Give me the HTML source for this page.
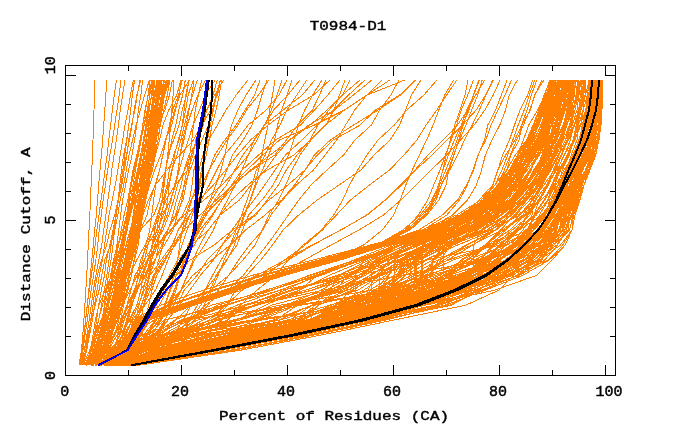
<!DOCTYPE html>
<html><head><meta charset="utf-8"><title>T0984-D1</title><style>
html,body{margin:0;padding:0;background:#fff;}
body{width:680px;height:440px;overflow:hidden;position:relative;font-family:"Liberation Mono",monospace;color:#000;}
svg{position:absolute;left:0;top:0;display:block;}
</style></head><body>
<svg width="680" height="440" viewBox="0 0 680 440">
<rect x="0" y="0" width="680" height="440" fill="#fff"/>
<g fill="none" shape-rendering="crispEdges" stroke-linejoin="round">
<polyline points="127.1,365.3 204.8,350.3 279.5,335.3 355.0,320.2 404.5,305.2 455.4,290.2 495.8,275.2 529.5,260.2 548.3,245.1 556.1,230.1 560.9,215.1 570.0,200.1 578.0,185.1 582.6,170.0 590.2,155.0 595.1,140.0 596.4,125.0 599.6,110.0 599.6,94.9 599.6,79.9" stroke="#ff7f00" stroke-width="1"/>
<polyline points="116.3,365.3 166.6,350.3 239.2,335.3 309.5,320.2 354.4,305.2 421.3,290.2 474.3,275.2 518.1,260.2 543.3,245.1 559.9,230.1 563.7,215.1 573.2,200.1 578.3,185.1 585.7,170.0 592.9,155.0 598.8,140.0 599.5,125.0 602.0,110.0 602.1,94.9 602.1,79.9" stroke="#ff7f00" stroke-width="1"/>
<polyline points="108.2,365.3 137.6,350.3 194.6,335.3 291.1,320.2 347.2,305.2 400.7,290.2 440.2,275.2 467.0,260.2 505.5,245.1 531.1,230.1 544.0,215.1 556.7,200.1 566.3,185.1 569.2,170.0 575.6,155.0 580.5,140.0 586.0,125.0 591.5,110.0 593.6,94.9 593.9,79.9" stroke="#ff7f00" stroke-width="1"/>
<polyline points="111.6,365.3 155.4,350.3 241.5,335.3 322.6,320.2 370.1,305.2 423.6,290.2 466.3,275.2 508.6,260.2 535.6,245.1 553.7,230.1 558.8,215.1 563.7,200.1 570.7,185.1 574.0,170.0 580.8,155.0 587.2,140.0 591.8,125.0 593.8,110.0 595.2,94.9 595.3,79.9" stroke="#ff7f00" stroke-width="1"/>
<polyline points="123.0,365.3 186.5,350.3 254.3,335.3 320.4,320.2 355.7,305.2 376.0,290.2 388.0,275.2 402.4,260.2 424.7,245.1 462.4,230.1 493.0,215.1 509.1,200.1 522.0,185.1 530.5,170.0 538.5,155.0 545.7,140.0 551.6,125.0 555.1,110.0 557.5,94.9 560.3,79.9" stroke="#ff7f00" stroke-width="1"/>
<polyline points="112.0,365.3 161.5,350.3 237.2,335.3 314.5,320.2 347.3,305.2 387.8,290.2 396.3,275.2 414.3,260.2 440.3,245.1 471.2,230.1 494.1,215.1 510.5,200.1 520.6,185.1 529.9,170.0 539.4,155.0 551.4,140.0 559.0,125.0 564.3,110.0 566.5,94.9 567.4,79.9" stroke="#ff7f00" stroke-width="1"/>
<polyline points="124.4,365.3 193.9,350.3 257.8,335.3 330.1,320.2 360.8,305.2 389.9,290.2 405.9,275.2 432.2,260.2 448.1,245.1 472.7,230.1 500.1,215.1 517.0,200.1 530.4,185.1 539.5,170.0 548.1,155.0 555.0,140.0 559.7,125.0 562.9,110.0 566.3,94.9 569.6,79.9" stroke="#ff7f00" stroke-width="1"/>
<polyline points="127.9,365.3 196.0,350.3 260.4,335.3 330.0,320.2 363.4,305.2 391.7,290.2 394.7,275.2 394.7,260.2 404.3,245.1 439.6,230.1 466.4,215.1 488.0,200.1 502.3,185.1 515.0,170.0 523.4,155.0 533.4,140.0 536.7,125.0 542.1,110.0 547.3,94.9 552.8,79.9" stroke="#ff7f00" stroke-width="1"/>
<polyline points="118.0,365.3 172.6,350.3 239.3,335.3 304.0,320.2 318.0,305.2 335.9,290.2 348.0,275.2 371.5,260.2 405.4,245.1 446.1,230.1 476.7,215.1 500.3,200.1 513.5,185.1 525.6,170.0 532.1,155.0 539.4,140.0 545.3,125.0 547.5,110.0 551.1,94.9 554.3,79.9" stroke="#ff7f00" stroke-width="1"/>
<polyline points="118.1,365.3 174.9,350.3 259.6,335.3 345.2,320.2 397.8,305.2 443.6,290.2 475.9,275.2 501.0,260.2 515.1,245.1 528.6,230.1 541.9,215.1 553.4,200.1 559.8,185.1 565.3,170.0 573.1,155.0 578.9,140.0 582.7,125.0 586.0,110.0 588.6,94.9 591.1,79.9" stroke="#ff7f00" stroke-width="1"/>
<polyline points="129.8,365.3 211.6,350.3 290.9,335.3 357.3,320.2 418.9,305.2 461.7,290.2 487.3,275.2 511.0,260.2 525.4,245.1 530.7,230.1 547.4,215.1 553.5,200.1 557.8,185.1 565.7,170.0 573.6,155.0 579.0,140.0 582.9,125.0 585.5,110.0 590.5,94.9 592.0,79.9" stroke="#ff7f00" stroke-width="1"/>
<polyline points="110.4,365.3 146.1,350.3 214.7,335.3 286.7,320.2 336.1,305.2 400.2,290.2 454.9,275.2 506.4,260.2 529.9,245.1 553.2,230.1 560.8,215.1 571.8,200.1 576.4,185.1 581.8,170.0 589.8,155.0 591.5,140.0 593.5,125.0 594.0,110.0 594.9,94.9 596.9,79.9" stroke="#ff7f00" stroke-width="1"/>
<polyline points="126.9,365.3 200.9,350.3 275.0,335.3 336.5,320.2 371.6,305.2 411.6,290.2 432.0,275.2 432.0,260.2 444.4,245.1 475.2,230.1 497.8,215.1 514.7,200.1 525.4,185.1 534.2,170.0 542.9,155.0 548.4,140.0 554.1,125.0 558.9,110.0 560.3,94.9 565.4,79.9" stroke="#ff7f00" stroke-width="1"/>
<polyline points="128.0,365.3 200.8,350.3 271.4,335.3 339.4,320.2 372.4,305.2 393.8,290.2 393.8,275.2 403.5,260.2 424.6,245.1 457.6,230.1 484.4,215.1 503.2,200.1 515.6,185.1 523.3,170.0 533.5,155.0 542.2,140.0 548.3,125.0 553.1,110.0 557.4,94.9 560.4,79.9" stroke="#ff7f00" stroke-width="1"/>
<polyline points="113.7,365.3 165.1,350.3 242.9,335.3 327.5,320.2 362.9,305.2 401.1,290.2 445.5,275.2 478.5,260.2 494.5,245.1 512.1,230.1 530.1,215.1 535.5,200.1 546.6,185.1 553.4,170.0 559.0,155.0 567.2,140.0 574.1,125.0 578.4,110.0 581.9,94.9 582.0,79.9" stroke="#ff7f00" stroke-width="1"/>
<polyline points="131.7,365.3 217.3,350.3 292.6,335.3 367.2,320.2 421.8,305.2 460.4,290.2 488.6,275.2 498.3,260.2 517.7,245.1 527.5,230.1 535.5,215.1 548.1,200.1 555.2,185.1 559.5,170.0 567.2,155.0 573.2,140.0 576.2,125.0 579.4,110.0 580.2,94.9 583.0,79.9" stroke="#ff7f00" stroke-width="1"/>
<polyline points="126.7,365.3 198.0,350.3 274.2,335.3 341.8,320.2 377.5,305.2 404.9,290.2 432.5,275.2 432.5,260.2 451.4,245.1 473.6,230.1 501.0,215.1 516.0,200.1 527.2,185.1 533.5,170.0 544.5,155.0 551.8,140.0 558.4,125.0 563.9,110.0 564.8,94.9 567.0,79.9" stroke="#ff7f00" stroke-width="1"/>
<polyline points="132.1,365.3 214.7,350.3 290.3,335.3 360.7,320.2 410.5,305.2 442.7,290.2 480.8,275.2 495.1,260.2 514.3,245.1 531.6,230.1 539.3,215.1 548.3,200.1 554.0,185.1 560.7,170.0 568.4,155.0 573.1,140.0 577.1,125.0 580.5,110.0 583.3,94.9 583.7,79.9" stroke="#ff7f00" stroke-width="1"/>
<polyline points="123.7,365.3 179.4,350.3 249.8,335.3 316.6,320.2 336.6,305.2 350.7,290.2 354.8,275.2 364.2,260.2 398.5,245.1 437.4,230.1 469.3,215.1 491.0,200.1 505.6,185.1 514.7,170.0 523.9,155.0 531.9,140.0 537.9,125.0 543.7,110.0 549.7,94.9 553.4,79.9" stroke="#ff7f00" stroke-width="1"/>
<polyline points="117.3,365.3 176.0,350.3 263.1,335.3 344.7,320.2 400.9,305.2 443.4,290.2 467.8,275.2 489.4,260.2 511.7,245.1 528.7,230.1 545.1,215.1 553.8,200.1 560.5,185.1 566.6,170.0 571.2,155.0 577.0,140.0 578.5,125.0 583.0,110.0 585.0,94.9 585.0,79.9" stroke="#ff7f00" stroke-width="1"/>
<polyline points="136.7,365.3 233.0,350.3 312.2,335.3 379.8,320.2 449.9,305.2 478.8,290.2 500.8,275.2 515.3,260.2 532.7,245.1 537.0,230.1 548.4,215.1 557.4,200.1 563.4,185.1 568.3,170.0 579.1,155.0 584.0,140.0 585.3,125.0 588.6,110.0 590.0,94.9 590.0,79.9" stroke="#ff7f00" stroke-width="1"/>
<polyline points="115.0,365.3 162.2,350.3 236.0,335.3 311.1,320.2 342.6,305.2 374.5,290.2 399.2,275.2 426.8,260.2 453.2,245.1 486.8,230.1 507.1,215.1 523.5,200.1 534.4,185.1 543.5,170.0 552.7,155.0 559.1,140.0 563.7,125.0 567.4,110.0 570.1,94.9 572.4,79.9" stroke="#ff7f00" stroke-width="1"/>
<polyline points="124.1,365.3 186.8,350.3 264.2,335.3 334.2,320.2 378.2,305.2 428.0,290.2 474.0,275.2 504.8,260.2 523.5,245.1 551.7,230.1 559.9,215.1 565.0,200.1 573.6,185.1 580.4,170.0 585.5,155.0 588.8,140.0 591.5,125.0 595.8,110.0 596.8,94.9 596.8,79.9" stroke="#ff7f00" stroke-width="1"/>
<polyline points="113.8,365.3 160.9,350.3 235.9,335.3 307.5,320.2 344.7,305.2 396.7,290.2 424.8,275.2 476.8,260.2 515.4,245.1 541.1,230.1 555.6,215.1 565.3,200.1 570.4,185.1 573.4,170.0 578.9,155.0 586.1,140.0 588.2,125.0 592.4,110.0 595.1,94.9 596.4,79.9" stroke="#ff7f00" stroke-width="1"/>
<polyline points="126.2,365.3 197.4,350.3 276.8,335.3 351.6,320.2 417.6,305.2 462.2,290.2 510.1,275.2 534.0,260.2 549.9,245.1 559.1,230.1 566.0,215.1 574.2,200.1 577.9,185.1 589.2,170.0 595.5,155.0 599.0,140.0 601.0,125.0 601.6,110.0 602.5,94.9 602.5,79.9" stroke="#ff7f00" stroke-width="1"/>
<polyline points="132.1,365.3 217.0,350.3 294.7,335.3 365.9,320.2 418.8,305.2 467.6,290.2 510.5,275.2 548.0,260.2 562.6,245.1 572.0,230.1 575.0,215.1 580.0,200.1 582.2,185.1 587.0,170.0 591.2,155.0 593.7,140.0 599.0,125.0 599.7,110.0 599.8,94.9 599.8,79.9" stroke="#ff7f00" stroke-width="1"/>
<polyline points="129.7,365.3 196.1,350.3 276.8,335.3 346.8,320.2 395.6,305.2 444.2,290.2 487.7,275.2 515.5,260.2 531.7,245.1 544.2,230.1 554.3,215.1 559.1,200.1 564.4,185.1 569.5,170.0 576.8,155.0 585.4,140.0 589.7,125.0 592.9,110.0 593.0,94.9 594.8,79.9" stroke="#ff7f00" stroke-width="1"/>
<polyline points="115.3,365.3 168.8,350.3 249.0,335.3 341.9,320.2 403.4,305.2 458.6,290.2 500.7,275.2 523.3,260.2 542.6,245.1 548.3,230.1 558.0,215.1 566.1,200.1 571.4,185.1 577.7,170.0 584.7,155.0 585.7,140.0 589.6,125.0 593.7,110.0 593.7,94.9 593.7,79.9" stroke="#ff7f00" stroke-width="1"/>
<polyline points="110.2,365.3 154.0,350.3 247.2,335.3 337.4,320.2 400.1,305.2 448.6,290.2 486.1,275.2 511.3,260.2 537.6,245.1 553.1,230.1 562.5,215.1 568.7,200.1 570.3,185.1 575.4,170.0 585.5,155.0 591.0,140.0 591.8,125.0 593.9,110.0 597.6,94.9 597.7,79.9" stroke="#ff7f00" stroke-width="1"/>
<polyline points="124.0,365.3 194.2,350.3 271.8,335.3 344.1,320.2 392.5,305.2 434.7,290.2 461.5,275.2 483.2,260.2 512.9,245.1 525.5,230.1 543.4,215.1 551.3,200.1 560.9,185.1 566.7,170.0 575.0,155.0 580.1,140.0 583.9,125.0 586.2,110.0 587.1,94.9 590.2,79.9" stroke="#ff7f00" stroke-width="1"/>
<polyline points="117.7,365.3 171.1,350.3 241.5,335.3 309.8,320.2 339.9,305.2 384.4,290.2 420.4,275.2 447.1,260.2 472.9,245.1 495.3,230.1 515.5,215.1 529.6,200.1 539.1,185.1 548.5,170.0 555.7,155.0 563.6,140.0 569.4,125.0 573.3,110.0 577.9,94.9 578.3,79.9" stroke="#ff7f00" stroke-width="1"/>
<polyline points="121.5,365.3 183.3,350.3 261.5,335.3 336.0,320.2 371.6,305.2 400.3,290.2 423.2,275.2 433.7,260.2 448.9,245.1 481.7,230.1 505.3,215.1 520.8,200.1 532.8,185.1 540.3,170.0 549.3,155.0 555.0,140.0 563.3,125.0 567.2,110.0 570.6,94.9 571.0,79.9" stroke="#ff7f00" stroke-width="1"/>
<polyline points="125.7,365.3 193.8,350.3 267.0,335.3 332.6,320.2 377.2,305.2 407.8,290.2 429.5,275.2 441.1,260.2 449.7,245.1 477.3,230.1 500.6,215.1 512.9,200.1 525.1,185.1 535.8,170.0 545.7,155.0 553.8,140.0 558.6,125.0 563.5,110.0 563.6,94.9 564.6,79.9" stroke="#ff7f00" stroke-width="1"/>
<polyline points="124.3,365.3 191.3,350.3 265.5,335.3 341.0,320.2 386.4,305.2 423.6,290.2 447.0,275.2 467.6,260.2 484.7,245.1 500.5,230.1 514.5,215.1 526.7,200.1 538.0,185.1 547.2,170.0 554.1,155.0 561.7,140.0 564.0,125.0 566.8,110.0 568.9,94.9 572.0,79.9" stroke="#ff7f00" stroke-width="1"/>
<polyline points="124.9,365.3 193.6,350.3 263.5,335.3 337.2,320.2 369.2,305.2 419.7,290.2 443.6,275.2 471.4,260.2 486.0,245.1 504.4,230.1 524.1,215.1 535.3,200.1 542.2,185.1 550.1,170.0 559.0,155.0 562.7,140.0 571.9,125.0 573.3,110.0 577.4,94.9 580.6,79.9" stroke="#ff7f00" stroke-width="1"/>
<polyline points="124.2,365.3 193.7,350.3 269.6,335.3 339.7,320.2 389.0,305.2 424.9,290.2 451.2,275.2 460.5,260.2 485.1,245.1 502.3,230.1 522.8,215.1 532.0,200.1 540.7,185.1 547.4,170.0 555.0,155.0 559.5,140.0 567.1,125.0 572.0,110.0 574.3,94.9 575.8,79.9" stroke="#ff7f00" stroke-width="1"/>
<polyline points="112.3,365.3 155.0,350.3 219.4,335.3 302.0,320.2 334.6,305.2 387.2,290.2 436.7,275.2 480.1,260.2 519.6,245.1 546.3,230.1 556.8,215.1 562.0,200.1 569.6,185.1 573.0,170.0 579.3,155.0 583.6,140.0 590.1,125.0 592.9,110.0 596.1,94.9 596.3,79.9" stroke="#ff7f00" stroke-width="1"/>
<polyline points="129.5,365.3 203.4,350.3 283.0,335.3 353.4,320.2 408.1,305.2 445.7,290.2 493.1,275.2 513.3,260.2 533.4,245.1 550.1,230.1 559.8,215.1 568.6,200.1 572.6,185.1 576.2,170.0 582.2,155.0 588.4,140.0 592.7,125.0 594.0,110.0 595.5,94.9 595.8,79.9" stroke="#ff7f00" stroke-width="1"/>
<polyline points="124.7,365.3 196.9,350.3 268.2,335.3 330.7,320.2 352.6,305.2 379.8,290.2 389.1,275.2 400.1,260.2 425.7,245.1 458.8,230.1 486.3,215.1 504.3,200.1 518.4,185.1 526.2,170.0 532.7,155.0 541.1,140.0 546.7,125.0 550.4,110.0 554.0,94.9 559.0,79.9" stroke="#ff7f00" stroke-width="1"/>
<polyline points="120.4,365.3 179.7,350.3 255.0,335.3 320.4,320.2 348.9,305.2 388.1,290.2 418.6,275.2 443.9,260.2 467.1,245.1 496.1,230.1 515.0,215.1 526.9,200.1 539.6,185.1 548.1,170.0 552.1,155.0 558.7,140.0 565.2,125.0 568.1,110.0 572.2,94.9 572.2,79.9" stroke="#ff7f00" stroke-width="1"/>
<polyline points="112.8,365.3 159.7,350.3 230.3,335.3 313.2,320.2 361.1,305.2 412.0,290.2 464.7,275.2 506.5,260.2 523.6,245.1 539.4,230.1 546.9,215.1 557.2,200.1 562.6,185.1 570.9,170.0 577.3,155.0 583.3,140.0 589.0,125.0 592.5,110.0 592.9,94.9 593.9,79.9" stroke="#ff7f00" stroke-width="1"/>
<polyline points="130.7,365.3 212.7,350.3 279.7,335.3 348.1,320.2 395.0,305.2 413.8,290.2 415.8,275.2 415.8,260.2 430.9,245.1 461.7,230.1 488.9,215.1 511.4,200.1 526.1,185.1 535.7,170.0 543.9,155.0 549.6,140.0 554.9,125.0 560.4,110.0 562.4,94.9 564.7,79.9" stroke="#ff7f00" stroke-width="1"/>
<polyline points="121.6,365.3 180.1,350.3 260.2,335.3 345.9,320.2 425.1,305.2 494.5,290.2 537.0,275.2 552.0,260.2 565.0,245.1 572.0,230.1 575.0,215.1 578.6,200.1 581.9,185.1 587.3,170.0 592.9,155.0 595.8,140.0 600.6,125.0 600.6,110.0 601.6,94.9 601.8,79.9" stroke="#ff7f00" stroke-width="1"/>
<polyline points="115.8,365.3 169.2,350.3 229.6,335.3 298.9,320.2 318.7,305.2 351.4,290.2 379.5,275.2 389.3,260.2 428.9,245.1 465.9,230.1 492.9,215.1 513.9,200.1 525.1,185.1 534.4,170.0 543.7,155.0 552.4,140.0 556.4,125.0 561.3,110.0 565.7,94.9 565.8,79.9" stroke="#ff7f00" stroke-width="1"/>
<polyline points="119.9,365.3 176.1,350.3 249.6,335.3 322.2,320.2 365.9,305.2 428.2,290.2 486.2,275.2 523.8,260.2 545.8,245.1 559.7,230.1 568.4,215.1 574.9,200.1 579.5,185.1 586.3,170.0 591.9,155.0 597.3,140.0 599.0,125.0 600.1,110.0 600.1,94.9 601.2,79.9" stroke="#ff7f00" stroke-width="1"/>
<polyline points="112.1,365.3 152.8,350.3 216.5,335.3 275.7,320.2 297.3,305.2 338.6,290.2 382.0,275.2 417.6,260.2 450.4,245.1 483.0,230.1 506.1,215.1 525.4,200.1 539.9,185.1 549.3,170.0 555.4,155.0 561.0,140.0 566.0,125.0 569.0,110.0 570.5,94.9 574.1,79.9" stroke="#ff7f00" stroke-width="1"/>
<polyline points="115.6,365.3 164.2,350.3 237.6,335.3 315.2,320.2 341.8,305.2 381.0,290.2 401.8,275.2 404.7,260.2 426.0,245.1 458.0,230.1 483.6,215.1 502.7,200.1 514.3,185.1 524.2,170.0 531.9,155.0 539.4,140.0 542.4,125.0 545.8,110.0 550.8,94.9 555.0,79.9" stroke="#ff7f00" stroke-width="1"/>
<polyline points="122.5,365.3 189.0,350.3 255.0,335.3 335.3,320.2 382.5,305.2 429.1,290.2 481.0,275.2 514.2,260.2 531.6,245.1 537.7,230.1 554.0,215.1 560.1,200.1 570.2,185.1 575.9,170.0 579.3,155.0 585.9,140.0 587.8,125.0 593.2,110.0 595.3,94.9 595.6,79.9" stroke="#ff7f00" stroke-width="1"/>
<polyline points="117.7,365.3 176.0,350.3 245.6,335.3 313.8,320.2 357.6,305.2 405.7,290.2 449.3,275.2 496.0,260.2 524.2,245.1 538.3,230.1 548.9,215.1 558.1,200.1 565.6,185.1 569.7,170.0 578.2,155.0 584.6,140.0 589.5,125.0 591.3,110.0 594.4,94.9 595.7,79.9" stroke="#ff7f00" stroke-width="1"/>
<polyline points="133.2,365.3 220.5,350.3 298.8,335.3 371.5,320.2 445.3,305.2 485.0,290.2 523.0,275.2 549.0,260.2 565.0,245.1 572.0,230.1 575.0,215.1 580.0,200.1 584.0,185.1 590.0,170.0 595.5,155.0 599.0,140.0 601.0,125.0 602.0,110.0 602.5,94.9 602.5,79.9" stroke="#ff7f00" stroke-width="1"/>
<polyline points="127.0,365.3 203.5,350.3 279.8,335.3 348.7,320.2 382.4,305.2 401.4,290.2 410.2,275.2 410.2,260.2 418.2,245.1 451.1,230.1 479.2,215.1 499.3,200.1 514.2,185.1 524.6,170.0 531.2,155.0 539.0,140.0 544.6,125.0 549.2,110.0 551.9,94.9 555.9,79.9" stroke="#ff7f00" stroke-width="1"/>
<polyline points="108.8,365.3 140.5,350.3 180.3,335.3 227.2,320.2 245.7,305.2 285.2,290.2 317.1,275.2 359.0,260.2 395.0,245.1 439.1,230.1 470.1,215.1 487.3,200.1 501.0,185.1 511.5,170.0 520.5,155.0 531.7,140.0 537.9,125.0 543.6,110.0 548.0,94.9 551.1,79.9" stroke="#ff7f00" stroke-width="1"/>
<polyline points="113.3,365.3 158.7,350.3 225.8,335.3 300.8,320.2 331.0,305.2 369.4,290.2 394.5,275.2 424.5,260.2 457.2,245.1 494.6,230.1 517.1,215.1 540.8,200.1 557.8,185.1 569.9,170.0 574.3,155.0 580.3,140.0 586.3,125.0 590.6,110.0 590.6,94.9 592.2,79.9" stroke="#ff7f00" stroke-width="1"/>
<polyline points="131.0,365.3 205.5,350.3 278.5,335.3 343.7,320.2 377.4,305.2 407.1,290.2 414.3,275.2 414.3,260.2 430.7,245.1 465.2,230.1 489.3,215.1 503.2,200.1 513.7,185.1 523.0,170.0 533.5,155.0 541.9,140.0 546.0,125.0 550.8,110.0 555.2,94.9 558.0,79.9" stroke="#ff7f00" stroke-width="1"/>
<polyline points="130.3,365.3 214.3,350.3 292.2,335.3 357.3,320.2 404.5,305.2 449.0,290.2 465.9,275.2 485.3,260.2 500.2,245.1 515.4,230.1 528.0,215.1 531.2,200.1 536.2,185.1 544.6,170.0 550.9,155.0 556.9,140.0 563.1,125.0 569.6,110.0 571.6,94.9 573.4,79.9" stroke="#ff7f00" stroke-width="1"/>
<polyline points="106.9,365.3 125.2,350.3 141.0,335.3 184.3,320.2 294.8,305.2 396.5,290.2 475.4,275.2 513.9,260.2 531.8,245.1 542.5,230.1 551.0,215.1 560.4,200.1 567.0,185.1 577.2,170.0 580.1,155.0 582.6,140.0 587.7,125.0 592.1,110.0 593.3,94.9 594.8,79.9" stroke="#ff7f00" stroke-width="1"/>
<polyline points="108.7,365.3 138.4,350.3 179.7,335.3 234.1,320.2 301.0,305.2 389.4,290.2 464.4,275.2 511.8,260.2 536.9,245.1 550.6,230.1 555.9,215.1 567.4,200.1 576.6,185.1 582.4,170.0 588.9,155.0 592.5,140.0 596.4,125.0 596.4,110.0 597.3,94.9 597.4,79.9" stroke="#ff7f00" stroke-width="1"/>
<polyline points="133.2,365.3 222.5,350.3 302.5,335.3 369.8,320.2 437.8,305.2 477.7,290.2 508.3,275.2 528.5,260.2 550.7,245.1 558.6,230.1 565.4,215.1 571.7,200.1 578.7,185.1 581.9,170.0 587.0,155.0 593.1,140.0 595.6,125.0 597.9,110.0 598.6,94.9 598.6,79.9" stroke="#ff7f00" stroke-width="1"/>
<polyline points="116.4,365.3 169.3,350.3 245.2,335.3 333.6,320.2 380.6,305.2 436.4,290.2 485.1,275.2 517.9,260.2 542.9,245.1 555.4,230.1 561.0,215.1 570.6,200.1 573.3,185.1 582.3,170.0 591.4,155.0 593.1,140.0 598.0,125.0 598.0,110.0 598.0,94.9 598.0,79.9" stroke="#ff7f00" stroke-width="1"/>
<polyline points="119.4,365.3 176.8,350.3 253.9,335.3 322.0,320.2 351.5,305.2 394.9,290.2 428.7,275.2 465.8,260.2 489.3,245.1 516.1,230.1 534.6,215.1 544.7,200.1 552.6,185.1 559.5,170.0 568.3,155.0 574.3,140.0 581.0,125.0 582.9,110.0 587.9,94.9 588.4,79.9" stroke="#ff7f00" stroke-width="1"/>
<polyline points="132.8,365.3 217.0,350.3 297.4,335.3 364.3,320.2 406.5,305.2 434.2,290.2 464.6,275.2 480.9,260.2 491.8,245.1 505.4,230.1 519.4,215.1 532.5,200.1 541.6,185.1 550.9,170.0 557.9,155.0 565.6,140.0 570.8,125.0 575.0,110.0 578.3,94.9 581.6,79.9" stroke="#ff7f00" stroke-width="1"/>
<polyline points="114.3,365.3 161.2,350.3 234.9,335.3 310.4,320.2 342.4,305.2 381.6,290.2 411.8,275.2 437.7,260.2 471.8,245.1 501.9,230.1 526.6,215.1 538.8,200.1 547.1,185.1 556.8,170.0 564.4,155.0 570.4,140.0 573.9,125.0 580.5,110.0 583.8,94.9 585.7,79.9" stroke="#ff7f00" stroke-width="1"/>
<polyline points="120.7,365.3 179.1,350.3 259.8,335.3 326.8,320.2 344.1,305.2 379.4,290.2 397.4,275.2 408.8,260.2 438.2,245.1 466.1,230.1 493.2,215.1 512.6,200.1 525.7,185.1 535.1,170.0 542.8,155.0 549.8,140.0 557.1,125.0 560.4,110.0 561.6,94.9 564.9,79.9" stroke="#ff7f00" stroke-width="1"/>
<polyline points="105.5,365.3 125.6,350.3 155.4,335.3 185.4,320.2 217.7,305.2 265.9,290.2 311.8,275.2 354.7,260.2 400.3,245.1 452.6,230.1 488.3,215.1 513.9,200.1 531.9,185.1 545.6,170.0 556.7,155.0 562.4,140.0 566.9,125.0 573.0,110.0 576.5,94.9 579.1,79.9" stroke="#ff7f00" stroke-width="1"/>
<polyline points="109.0,365.3 141.2,350.3 196.5,335.3 296.8,320.2 343.9,305.2 408.6,290.2 467.6,275.2 507.9,260.2 536.0,245.1 553.6,230.1 559.1,215.1 568.2,200.1 575.7,185.1 579.4,170.0 585.0,155.0 590.0,140.0 592.8,125.0 596.0,110.0 598.8,94.9 599.5,79.9" stroke="#ff7f00" stroke-width="1"/>
<polyline points="127.4,365.3 202.9,350.3 282.4,335.3 351.1,320.2 408.3,305.2 455.2,290.2 475.2,275.2 508.3,260.2 526.0,245.1 548.5,230.1 556.3,215.1 568.4,200.1 574.7,185.1 579.3,170.0 584.6,155.0 589.9,140.0 593.2,125.0 595.1,110.0 597.4,94.9 597.4,79.9" stroke="#ff7f00" stroke-width="1"/>
<polyline points="121.8,365.3 189.6,350.3 264.8,335.3 337.3,320.2 378.3,305.2 423.0,290.2 447.1,275.2 480.9,260.2 506.9,245.1 528.9,230.1 543.6,215.1 555.0,200.1 559.6,185.1 567.5,170.0 574.1,155.0 579.5,140.0 582.2,125.0 585.9,110.0 591.0,94.9 593.3,79.9" stroke="#ff7f00" stroke-width="1"/>
<polyline points="122.7,365.3 191.9,350.3 265.2,335.3 345.0,320.2 411.2,305.2 455.7,290.2 505.7,275.2 537.0,260.2 556.8,245.1 566.4,230.1 571.7,215.1 579.8,200.1 583.9,185.1 588.9,170.0 594.1,155.0 598.7,140.0 599.5,125.0 600.6,110.0 600.9,94.9 600.9,79.9" stroke="#ff7f00" stroke-width="1"/>
<polyline points="116.0,365.3 167.1,350.3 242.2,335.3 321.2,320.2 379.9,305.2 436.7,290.2 474.3,275.2 508.0,260.2 527.2,245.1 542.7,230.1 553.2,215.1 559.3,200.1 562.8,185.1 569.9,170.0 575.0,155.0 583.3,140.0 587.1,125.0 591.0,110.0 591.7,94.9 593.0,79.9" stroke="#ff7f00" stroke-width="1"/>
<polyline points="114.5,365.3 163.4,350.3 234.4,335.3 311.0,320.2 336.9,305.2 377.6,290.2 396.9,275.2 419.0,260.2 450.6,245.1 491.3,230.1 509.9,215.1 522.8,200.1 534.1,185.1 542.1,170.0 549.9,155.0 559.2,140.0 565.2,125.0 568.7,110.0 572.9,94.9 576.3,79.9" stroke="#ff7f00" stroke-width="1"/>
<polyline points="119.3,365.3 180.2,350.3 250.3,335.3 319.4,320.2 348.8,305.2 379.9,290.2 379.9,275.2 388.8,260.2 405.6,245.1 446.7,230.1 474.5,215.1 494.0,200.1 505.5,185.1 514.8,170.0 522.9,155.0 534.7,140.0 540.8,125.0 547.9,110.0 549.9,94.9 553.5,79.9" stroke="#ff7f00" stroke-width="1"/>
<polyline points="108.3,365.3 137.3,350.3 195.9,335.3 305.7,320.2 371.7,305.2 440.6,290.2 494.7,275.2 530.5,260.2 549.3,245.1 563.0,230.1 568.8,215.1 573.1,200.1 577.0,185.1 582.9,170.0 588.9,155.0 592.8,140.0 594.3,125.0 594.7,110.0 596.8,94.9 597.3,79.9" stroke="#ff7f00" stroke-width="1"/>
<polyline points="122.1,365.3 186.2,350.3 261.6,335.3 329.7,320.2 358.9,305.2 390.3,290.2 396.3,275.2 407.1,260.2 435.6,245.1 464.7,230.1 495.3,215.1 515.1,200.1 531.5,185.1 539.1,170.0 547.1,155.0 556.5,140.0 559.6,125.0 563.3,110.0 569.1,94.9 569.9,79.9" stroke="#ff7f00" stroke-width="1"/>
<polyline points="127.1,365.3 199.4,350.3 279.6,335.3 349.8,320.2 392.3,305.2 441.1,290.2 488.0,275.2 523.9,260.2 543.6,245.1 559.0,230.1 562.5,215.1 571.1,200.1 576.6,185.1 586.1,170.0 591.2,155.0 593.1,140.0 596.1,125.0 598.7,110.0 600.3,94.9 600.7,79.9" stroke="#ff7f00" stroke-width="1"/>
<polyline points="124.4,365.3 194.3,350.3 263.4,335.3 334.2,320.2 390.2,305.2 452.7,290.2 500.1,275.2 524.8,260.2 547.6,245.1 559.6,230.1 568.9,215.1 577.2,200.1 580.1,185.1 588.8,170.0 593.2,155.0 594.5,140.0 596.0,125.0 599.4,110.0 602.2,94.9 602.2,79.9" stroke="#ff7f00" stroke-width="1"/>
<polyline points="122.3,365.3 188.8,350.3 259.9,335.3 338.6,320.2 405.5,305.2 473.8,290.2 520.0,275.2 544.4,260.2 557.5,245.1 566.8,230.1 568.6,215.1 575.4,200.1 581.1,185.1 586.5,170.0 594.3,155.0 597.6,140.0 599.5,125.0 600.7,110.0 600.7,94.9 601.0,79.9" stroke="#ff7f00" stroke-width="1"/>
<polyline points="126.6,365.3 194.6,350.3 271.1,335.3 347.3,320.2 384.2,305.2 412.1,290.2 422.5,275.2 422.5,260.2 422.5,245.1 443.1,230.1 468.0,215.1 487.8,200.1 501.0,185.1 511.6,170.0 521.8,155.0 531.1,140.0 539.2,125.0 543.9,110.0 549.0,94.9 552.0,79.9" stroke="#ff7f00" stroke-width="1"/>
<polyline points="127.6,365.3 195.7,350.3 268.3,335.3 341.2,320.2 402.9,305.2 446.3,290.2 481.4,275.2 513.5,260.2 538.7,245.1 549.4,230.1 561.8,215.1 565.3,200.1 569.6,185.1 576.2,170.0 584.1,155.0 587.2,140.0 592.1,125.0 593.8,110.0 595.5,94.9 595.5,79.9" stroke="#ff7f00" stroke-width="1"/>
<polyline points="119.2,365.3 169.7,350.3 240.9,335.3 314.8,320.2 336.1,305.2 367.8,290.2 376.0,275.2 389.6,260.2 413.4,245.1 449.7,230.1 481.4,215.1 497.4,200.1 508.8,185.1 519.2,170.0 529.0,155.0 536.5,140.0 543.1,125.0 546.5,110.0 553.4,94.9 555.8,79.9" stroke="#ff7f00" stroke-width="1"/>
<polyline points="122.1,365.3 190.2,350.3 264.3,335.3 338.3,320.2 381.2,305.2 422.6,290.2 449.9,275.2 474.2,260.2 503.2,245.1 518.5,230.1 528.1,215.1 539.9,200.1 548.3,185.1 555.3,170.0 561.8,155.0 567.5,140.0 572.4,125.0 577.0,110.0 579.0,94.9 580.1,79.9" stroke="#ff7f00" stroke-width="1"/>
<polyline points="122.4,365.3 184.7,350.3 257.4,335.3 328.9,320.2 358.4,305.2 390.7,290.2 397.7,275.2 403.4,260.2 433.3,245.1 470.7,230.1 494.7,215.1 511.9,200.1 524.4,185.1 536.2,170.0 546.1,155.0 551.3,140.0 556.2,125.0 560.1,110.0 563.6,94.9 566.1,79.9" stroke="#ff7f00" stroke-width="1"/>
<polyline points="123.6,365.3 189.2,350.3 261.9,335.3 343.5,320.2 388.2,305.2 431.4,290.2 461.5,275.2 490.1,260.2 516.0,245.1 534.1,230.1 546.8,215.1 554.6,200.1 564.4,185.1 573.4,170.0 579.0,155.0 584.3,140.0 588.5,125.0 592.1,110.0 592.4,94.9 594.0,79.9" stroke="#ff7f00" stroke-width="1"/>
<polyline points="125.4,365.3 198.2,350.3 262.6,335.3 337.1,320.2 374.5,305.2 418.4,290.2 443.2,275.2 462.3,260.2 487.8,245.1 509.9,230.1 525.3,215.1 538.5,200.1 547.1,185.1 556.1,170.0 561.1,155.0 567.1,140.0 570.4,125.0 573.1,110.0 576.1,94.9 577.7,79.9" stroke="#ff7f00" stroke-width="1"/>
<polyline points="131.4,365.3 213.9,350.3 290.9,335.3 353.6,320.2 391.3,305.2 418.3,290.2 421.9,275.2 421.9,260.2 430.3,245.1 457.8,230.1 484.4,215.1 502.8,200.1 514.7,185.1 524.3,170.0 532.7,155.0 542.9,140.0 549.8,125.0 554.0,110.0 556.9,94.9 561.5,79.9" stroke="#ff7f00" stroke-width="1"/>
<polyline points="129.2,365.3 204.3,350.3 274.5,335.3 335.5,320.2 361.5,305.2 387.5,290.2 405.9,275.2 408.6,260.2 432.0,245.1 465.7,230.1 488.6,215.1 504.7,200.1 515.7,185.1 522.2,170.0 528.6,155.0 539.5,140.0 543.6,125.0 546.9,110.0 551.5,94.9 554.7,79.9" stroke="#ff7f00" stroke-width="1"/>
<polyline points="126.1,365.3 196.3,350.3 271.8,335.3 338.4,320.2 392.1,305.2 450.9,290.2 507.9,275.2 541.1,260.2 554.0,245.1 565.1,230.1 572.3,215.1 575.8,200.1 581.5,185.1 586.6,170.0 591.5,155.0 593.8,140.0 595.2,125.0 597.9,110.0 598.9,94.9 598.9,79.9" stroke="#ff7f00" stroke-width="1"/>
<polyline points="124.2,365.3 196.8,350.3 276.7,335.3 344.1,320.2 390.4,305.2 437.9,290.2 483.9,275.2 515.9,260.2 538.0,245.1 559.2,230.1 566.7,215.1 572.6,200.1 575.4,185.1 581.3,170.0 585.5,155.0 590.6,140.0 594.6,125.0 597.1,110.0 597.1,94.9 598.2,79.9" stroke="#ff7f00" stroke-width="1"/>
<polyline points="109.6,365.3 142.6,350.3 192.8,335.3 255.6,320.2 287.7,305.2 330.4,290.2 359.2,275.2 386.9,260.2 427.6,245.1 464.8,230.1 490.5,215.1 510.8,200.1 523.8,185.1 535.2,170.0 542.2,155.0 550.0,140.0 555.0,125.0 558.4,110.0 564.9,94.9 568.3,79.9" stroke="#ff7f00" stroke-width="1"/>
<polyline points="136.6,365.3 233.4,350.3 313.0,335.3 384.9,320.2 444.7,305.2 470.6,290.2 473.4,275.2 473.4,260.2 473.4,245.1 481.8,230.1 499.6,215.1 519.4,200.1 533.7,185.1 542.9,170.0 548.1,155.0 554.0,140.0 558.4,125.0 562.3,110.0 566.6,94.9 568.5,79.9" stroke="#ff7f00" stroke-width="1"/>
<polyline points="128.5,365.3 209.7,350.3 286.4,335.3 356.5,320.2 405.1,305.2 432.9,290.2 443.8,275.2 443.8,260.2 443.8,245.1 468.2,230.1 496.0,215.1 514.7,200.1 527.3,185.1 538.4,170.0 545.4,155.0 550.0,140.0 552.8,125.0 557.3,110.0 560.7,94.9 561.6,79.9" stroke="#ff7f00" stroke-width="1"/>
<polyline points="115.8,365.3 166.9,350.3 240.3,335.3 320.7,320.2 361.4,305.2 412.6,290.2 455.6,275.2 514.5,260.2 547.3,245.1 564.5,230.1 571.1,215.1 576.8,200.1 584.0,185.1 588.7,170.0 595.9,155.0 597.9,140.0 599.9,125.0 600.3,110.0 602.4,94.9 602.4,79.9" stroke="#ff7f00" stroke-width="1"/>
<polyline points="125.6,365.3 201.6,350.3 270.3,335.3 348.1,320.2 403.6,305.2 444.6,290.2 479.1,275.2 498.7,260.2 518.0,245.1 538.7,230.1 550.2,215.1 557.5,200.1 562.2,185.1 569.3,170.0 575.4,155.0 580.7,140.0 583.3,125.0 588.7,110.0 589.4,94.9 590.2,79.9" stroke="#ff7f00" stroke-width="1"/>
<polyline points="106.8,365.3 133.2,350.3 174.9,335.3 239.3,320.2 271.7,305.2 327.8,290.2 378.1,275.2 407.3,260.2 451.8,245.1 489.1,230.1 519.7,215.1 532.3,200.1 543.9,185.1 554.4,170.0 561.0,155.0 568.6,140.0 574.8,125.0 580.1,110.0 582.8,94.9 584.1,79.9" stroke="#ff7f00" stroke-width="1"/>
<polyline points="121.8,365.3 184.3,350.3 262.8,335.3 336.1,320.2 373.3,305.2 407.5,290.2 429.4,275.2 438.3,260.2 466.0,245.1 495.0,230.1 511.0,215.1 523.4,200.1 533.6,185.1 538.6,170.0 546.6,155.0 554.1,140.0 558.4,125.0 561.9,110.0 565.5,94.9 568.6,79.9" stroke="#ff7f00" stroke-width="1"/>
<polyline points="125.1,365.3 192.0,350.3 268.4,335.3 337.1,320.2 390.7,305.2 445.5,290.2 493.6,275.2 517.4,260.2 536.3,245.1 554.3,230.1 563.3,215.1 569.2,200.1 575.3,185.1 581.7,170.0 586.1,155.0 592.6,140.0 594.1,125.0 596.8,110.0 598.7,94.9 598.7,79.9" stroke="#ff7f00" stroke-width="1"/>
<polyline points="130.3,365.3 211.7,350.3 290.3,335.3 355.2,320.2 416.1,305.2 450.8,290.2 479.1,275.2 494.1,260.2 516.7,245.1 530.9,230.1 548.1,215.1 560.2,200.1 564.5,185.1 571.1,170.0 577.7,155.0 581.1,140.0 586.9,125.0 591.1,110.0 591.1,94.9 592.4,79.9" stroke="#ff7f00" stroke-width="1"/>
<polyline points="111.0,365.3 148.5,350.3 209.9,335.3 272.8,320.2 312.1,305.2 384.1,290.2 460.9,275.2 523.2,260.2 552.6,245.1 559.1,230.1 565.8,215.1 568.4,200.1 572.2,185.1 580.5,170.0 588.2,155.0 592.8,140.0 595.1,125.0 597.5,110.0 599.2,94.9 599.2,79.9" stroke="#ff7f00" stroke-width="1"/>
<polyline points="116.6,365.3 166.3,350.3 235.6,335.3 317.7,320.2 359.0,305.2 390.5,290.2 414.3,275.2 448.1,260.2 492.0,245.1 519.2,230.1 541.6,215.1 553.1,200.1 560.4,185.1 567.7,170.0 576.8,155.0 581.9,140.0 585.2,125.0 589.8,110.0 593.1,94.9 594.1,79.9" stroke="#ff7f00" stroke-width="1"/>
<polyline points="129.6,365.3 205.2,350.3 284.1,335.3 354.9,320.2 402.0,305.2 439.4,290.2 470.5,275.2 484.6,260.2 498.9,245.1 517.5,230.1 536.4,215.1 547.5,200.1 552.9,185.1 557.5,170.0 564.0,155.0 573.8,140.0 578.4,125.0 583.7,110.0 583.7,94.9 584.5,79.9" stroke="#ff7f00" stroke-width="1"/>
<polyline points="120.8,365.3 181.0,350.3 251.4,335.3 323.8,320.2 372.9,305.2 420.1,290.2 461.5,275.2 507.5,260.2 540.3,245.1 550.9,230.1 555.8,215.1 563.6,200.1 567.7,185.1 573.5,170.0 578.3,155.0 583.7,140.0 587.7,125.0 591.6,110.0 593.4,94.9 595.0,79.9" stroke="#ff7f00" stroke-width="1"/>
<polyline points="127.3,365.3 198.8,350.3 275.9,335.3 354.3,320.2 408.6,305.2 443.5,290.2 479.5,275.2 496.3,260.2 523.3,245.1 536.8,230.1 548.5,215.1 551.6,200.1 556.1,185.1 564.1,170.0 573.4,155.0 579.3,140.0 587.0,125.0 590.4,110.0 591.3,94.9 592.7,79.9" stroke="#ff7f00" stroke-width="1"/>
<polyline points="131.7,365.3 217.6,350.3 293.1,335.3 362.7,320.2 424.0,305.2 482.8,290.2 517.1,275.2 536.7,260.2 554.1,245.1 562.0,230.1 565.9,215.1 571.7,200.1 575.5,185.1 580.1,170.0 589.1,155.0 592.2,140.0 595.0,125.0 597.6,110.0 599.5,94.9 600.8,79.9" stroke="#ff7f00" stroke-width="1"/>
<polyline points="122.9,365.3 187.6,350.3 264.1,335.3 336.1,320.2 389.2,305.2 438.0,290.2 472.9,275.2 504.8,260.2 528.1,245.1 542.5,230.1 552.7,215.1 561.7,200.1 567.1,185.1 570.6,170.0 578.4,155.0 585.6,140.0 589.1,125.0 592.4,110.0 592.4,94.9 595.1,79.9" stroke="#ff7f00" stroke-width="1"/>
<polyline points="118.5,365.3 174.5,350.3 239.4,335.3 310.6,320.2 335.2,305.2 363.4,290.2 386.1,275.2 398.4,260.2 424.3,245.1 460.0,230.1 484.7,215.1 503.2,200.1 515.6,185.1 525.1,170.0 534.4,155.0 544.8,140.0 547.1,125.0 552.7,110.0 556.8,94.9 560.7,79.9" stroke="#ff7f00" stroke-width="1"/>
<polyline points="138.0,365.3 240.0,350.3 320.0,335.3 393.1,320.2 465.6,305.2 498.7,290.2 513.7,275.2 531.6,260.2 544.9,245.1 556.4,230.1 561.3,215.1 566.8,200.1 574.6,185.1 578.9,170.0 584.5,155.0 589.2,140.0 591.4,125.0 593.2,110.0 595.9,94.9 595.9,79.9" stroke="#ff7f00" stroke-width="1"/>
<polyline points="107.8,365.3 132.6,350.3 175.1,335.3 202.7,320.2 237.0,305.2 279.7,290.2 321.3,275.2 360.7,260.2 398.7,245.1 439.2,230.1 471.8,215.1 492.4,200.1 507.1,185.1 518.0,170.0 525.2,155.0 532.7,140.0 538.6,125.0 542.1,110.0 547.5,94.9 553.9,79.9" stroke="#ff7f00" stroke-width="1"/>
<polyline points="122.7,365.3 181.0,350.3 248.3,335.3 311.3,320.2 313.3,305.2 329.9,290.2 339.0,275.2 368.7,260.2 401.1,245.1 437.2,230.1 465.6,215.1 487.0,200.1 501.0,185.1 511.5,170.0 520.5,155.0 530.0,140.0 536.0,125.0 541.0,110.0 546.0,94.9 551.0,79.9" stroke="#ff7f00" stroke-width="1"/>
<polyline points="112.9,365.3 166.3,350.3 236.4,335.3 319.6,320.2 374.5,305.2 445.5,290.2 506.3,275.2 539.3,260.2 560.4,245.1 572.0,230.1 573.4,215.1 580.0,200.1 584.0,185.1 588.7,170.0 593.9,155.0 597.1,140.0 599.9,125.0 602.0,110.0 602.5,94.9 602.5,79.9" stroke="#ff7f00" stroke-width="1"/>
<polyline points="125.7,365.3 203.1,350.3 276.8,335.3 353.9,320.2 418.7,305.2 461.6,290.2 502.7,275.2 530.8,260.2 546.4,245.1 556.4,230.1 559.2,215.1 567.8,200.1 572.0,185.1 578.1,170.0 586.7,155.0 588.5,140.0 591.9,125.0 595.0,110.0 596.9,94.9 596.9,79.9" stroke="#ff7f00" stroke-width="1"/>
<polyline points="113.9,365.3 152.7,350.3 207.0,335.3 260.9,320.2 297.0,305.2 326.6,290.2 351.2,275.2 379.7,260.2 414.2,245.1 455.7,230.1 480.3,215.1 498.2,200.1 512.6,185.1 521.5,170.0 529.4,155.0 538.0,140.0 545.6,125.0 549.9,110.0 553.3,94.9 559.2,79.9" stroke="#ff7f00" stroke-width="1"/>
<polyline points="125.7,365.3 203.0,350.3 278.7,335.3 349.8,320.2 400.7,305.2 436.0,290.2 470.0,275.2 491.1,260.2 505.8,245.1 530.3,230.1 545.3,215.1 549.7,200.1 558.2,185.1 562.3,170.0 569.3,155.0 573.8,140.0 577.8,125.0 581.0,110.0 585.5,94.9 589.5,79.9" stroke="#ff7f00" stroke-width="1"/>
<polyline points="120.3,365.3 181.3,350.3 247.5,335.3 321.2,320.2 353.8,305.2 383.4,290.2 403.0,275.2 408.6,260.2 433.7,245.1 466.2,230.1 493.8,215.1 509.3,200.1 522.9,185.1 531.5,170.0 536.4,155.0 544.7,140.0 551.5,125.0 554.6,110.0 560.1,94.9 563.1,79.9" stroke="#ff7f00" stroke-width="1"/>
<polyline points="127.9,365.3 206.4,350.3 290.7,335.3 369.3,320.2 439.5,305.2 481.7,290.2 518.2,275.2 541.8,260.2 549.2,245.1 559.9,230.1 565.6,215.1 568.8,200.1 575.0,185.1 580.7,170.0 583.6,155.0 590.1,140.0 594.5,125.0 596.4,110.0 598.0,94.9 598.0,79.9" stroke="#ff7f00" stroke-width="1"/>
<polyline points="106.4,365.3 126.6,350.3 153.3,335.3 174.3,320.2 211.7,305.2 270.7,290.2 315.2,275.2 362.4,260.2 409.5,245.1 450.8,230.1 481.5,215.1 501.1,200.1 515.0,185.1 524.4,170.0 533.5,155.0 541.8,140.0 547.9,125.0 552.3,110.0 557.2,94.9 560.0,79.9" stroke="#ff7f00" stroke-width="1"/>
<polyline points="117.1,365.3 160.2,350.3 238.2,335.3 319.3,320.2 375.9,305.2 430.0,290.2 461.4,275.2 497.8,260.2 517.0,245.1 532.8,230.1 544.9,215.1 553.8,200.1 563.0,185.1 569.3,170.0 572.8,155.0 580.3,140.0 585.2,125.0 591.1,110.0 592.7,94.9 594.4,79.9" stroke="#ff7f00" stroke-width="1"/>
<polyline points="115.0,365.3 162.8,350.3 238.7,335.3 318.8,320.2 348.5,305.2 390.3,290.2 420.2,275.2 452.9,260.2 494.4,245.1 527.2,230.1 544.2,215.1 554.1,200.1 561.2,185.1 567.5,170.0 574.8,155.0 582.5,140.0 586.0,125.0 591.1,110.0 592.6,94.9 594.0,79.9" stroke="#ff7f00" stroke-width="1"/>
<polyline points="126.5,365.3 200.1,350.3 268.5,335.3 344.6,320.2 395.9,305.2 455.5,290.2 501.1,275.2 529.3,260.2 543.4,245.1 553.5,230.1 557.3,215.1 566.7,200.1 573.6,185.1 581.1,170.0 587.0,155.0 590.4,140.0 594.8,125.0 598.1,110.0 598.1,94.9 598.1,79.9" stroke="#ff7f00" stroke-width="1"/>
<polyline points="108.0,365.3 131.5,350.3 183.4,335.3 279.2,320.2 329.9,305.2 378.7,290.2 399.1,275.2 415.6,260.2 445.0,245.1 481.0,230.1 501.5,215.1 520.2,200.1 531.9,185.1 540.2,170.0 546.7,155.0 555.5,140.0 560.0,125.0 562.8,110.0 565.2,94.9 568.1,79.9" stroke="#ff7f00" stroke-width="1"/>
<polyline points="128.0,365.3 198.2,350.3 267.6,335.3 331.9,320.2 351.8,305.2 371.1,290.2 371.1,275.2 374.5,260.2 404.5,245.1 445.9,230.1 471.3,215.1 492.2,200.1 503.8,185.1 513.1,170.0 524.0,155.0 531.3,140.0 536.0,125.0 541.0,110.0 546.0,94.9 552.7,79.9" stroke="#ff7f00" stroke-width="1"/>
<polyline points="113.2,365.3 159.4,350.3 228.5,335.3 310.0,320.2 353.8,305.2 411.6,290.2 472.9,275.2 523.0,260.2 548.5,245.1 560.0,230.1 564.4,215.1 570.8,200.1 576.6,185.1 581.9,170.0 586.0,155.0 590.5,140.0 590.6,125.0 593.8,110.0 595.6,94.9 595.9,79.9" stroke="#ff7f00" stroke-width="1"/>
<polyline points="131.9,365.3 214.8,350.3 290.5,335.3 359.1,320.2 417.2,305.2 452.9,290.2 470.7,275.2 488.4,260.2 510.9,245.1 522.8,230.1 532.0,215.1 533.5,200.1 541.3,185.1 549.8,170.0 557.9,155.0 565.4,140.0 569.8,125.0 572.4,110.0 573.6,94.9 576.5,79.9" stroke="#ff7f00" stroke-width="1"/>
<polyline points="126.7,365.3 202.7,350.3 282.6,335.3 354.9,320.2 404.6,305.2 435.2,290.2 469.5,275.2 500.2,260.2 521.8,245.1 537.9,230.1 551.0,215.1 559.1,200.1 567.6,185.1 573.8,170.0 577.4,155.0 580.8,140.0 586.0,125.0 590.4,110.0 591.8,94.9 591.9,79.9" stroke="#ff7f00" stroke-width="1"/>
<polyline points="107.0,365.3 131.1,350.3 165.8,335.3 210.6,320.2 243.5,305.2 293.5,290.2 345.7,275.2 387.8,260.2 433.5,245.1 472.1,230.1 500.1,215.1 523.5,200.1 539.2,185.1 546.1,170.0 555.0,155.0 561.6,140.0 567.0,125.0 571.0,110.0 572.1,94.9 574.3,79.9" stroke="#ff7f00" stroke-width="1"/>
<polyline points="127.6,365.3 204.7,350.3 288.2,335.3 350.2,320.2 371.9,305.2 385.5,290.2 401.7,275.2 401.9,260.2 430.1,245.1 464.3,230.1 489.9,215.1 510.1,200.1 526.8,185.1 537.3,170.0 544.8,155.0 550.9,140.0 555.6,125.0 559.7,110.0 561.2,94.9 565.1,79.9" stroke="#ff7f00" stroke-width="1"/>
<polyline points="108.1,365.3 135.9,350.3 173.7,335.3 218.3,320.2 253.7,305.2 291.7,290.2 337.9,275.2 375.9,260.2 417.2,245.1 457.2,230.1 487.3,215.1 513.0,200.1 529.2,185.1 542.2,170.0 553.4,155.0 560.2,140.0 562.9,125.0 570.9,110.0 572.1,94.9 573.3,79.9" stroke="#ff7f00" stroke-width="1"/>
<polyline points="106.8,365.3 125.7,350.3 148.0,335.3 164.1,320.2 223.6,305.2 281.3,290.2 358.6,275.2 425.1,260.2 500.9,245.1 532.9,230.1 547.4,215.1 557.9,200.1 561.8,185.1 567.5,170.0 575.7,155.0 580.0,140.0 585.1,125.0 590.0,110.0 593.7,94.9 593.7,79.9" stroke="#ff7f00" stroke-width="1"/>
<polyline points="124.0,365.3 192.5,350.3 271.0,335.3 340.1,320.2 388.4,305.2 422.0,290.2 459.9,275.2 487.2,260.2 499.3,245.1 518.9,230.1 534.0,215.1 543.8,200.1 551.5,185.1 558.4,170.0 567.9,155.0 574.8,140.0 580.2,125.0 585.8,110.0 588.9,94.9 590.8,79.9" stroke="#ff7f00" stroke-width="1"/>
<polyline points="106.1,365.3 123.9,350.3 150.3,335.3 187.7,320.2 245.6,305.2 312.0,290.2 348.6,275.2 383.7,260.2 416.4,245.1 463.8,230.1 488.7,215.1 508.7,200.1 524.0,185.1 536.1,170.0 547.8,155.0 554.4,140.0 559.6,125.0 565.0,110.0 568.0,94.9 568.2,79.9" stroke="#ff7f00" stroke-width="1"/>
<polyline points="128.0,365.3 197.7,350.3 276.2,335.3 341.0,320.2 366.9,305.2 390.0,290.2 404.5,275.2 421.7,260.2 436.8,245.1 465.2,230.1 488.7,215.1 507.0,200.1 519.6,185.1 529.6,170.0 538.8,155.0 547.6,140.0 550.9,125.0 555.9,110.0 560.6,94.9 563.8,79.9" stroke="#ff7f00" stroke-width="1"/>
<polyline points="136.1,365.3 231.5,350.3 308.0,335.3 377.1,320.2 437.6,305.2 460.4,290.2 486.7,275.2 507.3,260.2 531.1,245.1 542.3,230.1 552.7,215.1 557.1,200.1 564.9,185.1 574.8,170.0 577.3,155.0 581.0,140.0 587.4,125.0 591.2,110.0 594.2,94.9 595.0,79.9" stroke="#ff7f00" stroke-width="1"/>
<polyline points="105.9,365.3 124.3,350.3 162.0,335.3 258.2,320.2 356.6,305.2 432.0,290.2 485.6,275.2 509.2,260.2 519.3,245.1 533.9,230.1 546.7,215.1 559.4,200.1 565.8,185.1 572.0,170.0 578.7,155.0 582.7,140.0 583.7,125.0 588.0,110.0 591.6,94.9 593.4,79.9" stroke="#ff7f00" stroke-width="1"/>
<polyline points="131.5,365.3 214.7,350.3 294.4,335.3 367.8,320.2 425.4,305.2 470.7,290.2 503.6,275.2 527.7,260.2 540.2,245.1 553.4,230.1 558.9,215.1 567.8,200.1 572.7,185.1 578.0,170.0 583.0,155.0 586.5,140.0 587.7,125.0 590.5,110.0 592.0,94.9 592.0,79.9" stroke="#ff7f00" stroke-width="1"/>
<polyline points="105.9,365.3 125.6,350.3 165.9,335.3 261.2,320.2 352.0,305.2 435.4,290.2 494.3,275.2 529.8,260.2 549.6,245.1 568.3,230.1 568.3,215.1 571.3,200.1 576.3,185.1 585.4,170.0 591.2,155.0 594.9,140.0 598.5,125.0 599.4,110.0 600.8,94.9 600.8,79.9" stroke="#ff7f00" stroke-width="1"/>
<polyline points="124.2,365.3 192.7,350.3 269.1,335.3 348.9,320.2 405.4,305.2 452.5,290.2 484.5,275.2 511.7,260.2 530.9,245.1 548.3,230.1 558.6,215.1 566.1,200.1 571.2,185.1 581.8,170.0 588.6,155.0 592.0,140.0 594.8,125.0 596.7,110.0 597.2,94.9 597.6,79.9" stroke="#ff7f00" stroke-width="1"/>
<polyline points="106.7,365.3 128.0,350.3 157.2,335.3 251.5,320.2 359.5,305.2 431.4,290.2 475.7,275.2 512.9,260.2 531.5,245.1 548.0,230.1 557.0,215.1 562.9,200.1 567.3,185.1 574.0,170.0 579.5,155.0 584.6,140.0 588.0,125.0 589.6,110.0 593.1,94.9 594.4,79.9" stroke="#ff7f00" stroke-width="1"/>
<polyline points="106.1,365.3 128.1,350.3 161.4,335.3 212.0,320.2 287.9,305.2 347.5,290.2 376.1,275.2 401.0,260.2 430.5,245.1 459.9,230.1 481.7,215.1 499.7,200.1 514.8,185.1 524.9,170.0 532.3,155.0 540.7,140.0 546.1,125.0 550.7,110.0 555.4,94.9 559.7,79.9" stroke="#ff7f00" stroke-width="1"/>
<polyline points="121.5,365.3 177.5,350.3 257.1,335.3 339.3,320.2 396.0,305.2 452.4,290.2 491.6,275.2 523.2,260.2 542.8,245.1 556.8,230.1 559.6,215.1 565.1,200.1 574.8,185.1 582.0,170.0 589.2,155.0 591.5,140.0 596.4,125.0 597.6,110.0 597.6,94.9 598.0,79.9" stroke="#ff7f00" stroke-width="1"/>
<polyline points="128.1,365.3 207.3,350.3 284.9,335.3 357.8,320.2 417.7,305.2 456.0,290.2 483.8,275.2 511.1,260.2 525.8,245.1 540.3,230.1 550.6,215.1 556.6,200.1 562.8,185.1 568.9,170.0 579.8,155.0 584.4,140.0 588.7,125.0 592.0,110.0 594.1,94.9 595.5,79.9" stroke="#ff7f00" stroke-width="1"/>
<polyline points="115.6,365.3 165.4,350.3 234.7,335.3 297.6,320.2 315.1,305.2 346.3,290.2 358.9,275.2 380.5,260.2 407.8,245.1 449.1,230.1 479.3,215.1 499.6,200.1 511.0,185.1 519.3,170.0 530.5,155.0 538.8,140.0 542.4,125.0 545.9,110.0 550.7,94.9 556.4,79.9" stroke="#ff7f00" stroke-width="1"/>
<polyline points="132.4,365.3 214.7,350.3 288.0,335.3 355.5,320.2 424.7,305.2 464.4,290.2 501.7,275.2 530.6,260.2 546.2,245.1 559.9,230.1 569.1,215.1 576.3,200.1 579.1,185.1 581.2,170.0 588.4,155.0 592.4,140.0 596.9,125.0 597.6,110.0 599.2,94.9 599.2,79.9" stroke="#ff7f00" stroke-width="1"/>
<polyline points="127.9,365.3 206.1,350.3 275.6,335.3 343.7,320.2 380.0,305.2 403.9,290.2 426.9,275.2 434.0,260.2 452.8,245.1 480.7,230.1 501.0,215.1 515.2,200.1 527.3,185.1 536.5,170.0 542.1,155.0 546.6,140.0 551.2,125.0 556.7,110.0 561.3,94.9 563.7,79.9" stroke="#ff7f00" stroke-width="1"/>
<polyline points="121.3,365.3 181.4,350.3 257.9,335.3 330.7,320.2 374.0,305.2 427.0,290.2 472.9,275.2 506.0,260.2 528.1,245.1 540.7,230.1 552.3,215.1 564.4,200.1 570.8,185.1 572.6,170.0 577.0,155.0 585.7,140.0 587.7,125.0 590.9,110.0 594.3,94.9 594.7,79.9" stroke="#ff7f00" stroke-width="1"/>
<polyline points="136.1,365.3 230.0,350.3 310.2,335.3 375.9,320.2 416.7,305.2 416.7,290.2 416.7,275.2 416.7,260.2 416.7,245.1 450.0,230.1 478.7,215.1 500.8,200.1 512.6,185.1 521.7,170.0 526.9,155.0 536.0,140.0 542.8,125.0 548.2,110.0 554.0,94.9 557.9,79.9" stroke="#ff7f00" stroke-width="1"/>
<polyline points="111.7,365.3 155.3,350.3 219.1,335.3 289.4,320.2 312.1,305.2 354.7,290.2 370.0,275.2 393.9,260.2 424.1,245.1 458.8,230.1 484.3,215.1 502.7,200.1 516.0,185.1 523.4,170.0 533.8,155.0 544.3,140.0 551.2,125.0 553.0,110.0 557.1,94.9 561.1,79.9" stroke="#ff7f00" stroke-width="1"/>
<polyline points="129.7,365.3 211.2,350.3 290.9,335.3 354.5,320.2 402.3,305.2 446.9,290.2 475.1,275.2 514.5,260.2 534.5,245.1 559.5,230.1 562.3,215.1 568.4,200.1 578.7,185.1 581.0,170.0 588.2,155.0 592.4,140.0 593.5,125.0 594.6,110.0 596.3,94.9 596.9,79.9" stroke="#ff7f00" stroke-width="1"/>
<polyline points="107.8,365.3 133.9,350.3 163.4,335.3 197.4,320.2 254.7,305.2 322.8,290.2 403.3,275.2 482.9,260.2 539.0,245.1 561.9,230.1 569.5,215.1 574.4,200.1 581.4,185.1 589.7,170.0 592.3,155.0 594.6,140.0 598.6,125.0 601.6,110.0 601.6,94.9 601.6,79.9" stroke="#ff7f00" stroke-width="1"/>
<polyline points="128.9,365.3 200.5,350.3 274.4,335.3 346.0,320.2 395.8,305.2 434.1,290.2 465.3,275.2 487.5,260.2 526.7,245.1 543.4,230.1 553.8,215.1 562.2,200.1 570.9,185.1 573.2,170.0 583.1,155.0 584.9,140.0 589.1,125.0 593.1,110.0 596.8,94.9 596.8,79.9" stroke="#ff7f00" stroke-width="1"/>
<polyline points="107.7,365.3 136.2,350.3 174.7,335.3 217.8,320.2 279.5,305.2 372.7,290.2 430.4,275.2 488.0,260.2 510.9,245.1 538.7,230.1 551.1,215.1 561.1,200.1 565.0,185.1 571.3,170.0 575.3,155.0 580.8,140.0 585.0,125.0 586.9,110.0 589.2,94.9 589.7,79.9" stroke="#ff7f00" stroke-width="1"/>
<polyline points="123.8,365.3 189.4,350.3 266.7,335.3 336.1,320.2 388.8,305.2 437.1,290.2 473.4,275.2 497.9,260.2 527.5,245.1 541.9,230.1 552.0,215.1 558.7,200.1 562.7,185.1 567.2,170.0 575.6,155.0 584.4,140.0 588.7,125.0 591.0,110.0 591.6,94.9 592.4,79.9" stroke="#ff7f00" stroke-width="1"/>
<polyline points="131.7,365.3 214.5,350.3 296.5,335.3 365.8,320.2 434.3,305.2 474.1,290.2 512.9,275.2 533.5,260.2 554.0,245.1 569.5,230.1 573.0,215.1 577.4,200.1 584.0,185.1 590.0,170.0 595.8,155.0 598.5,140.0 600.6,125.0 602.0,110.0 602.5,94.9 602.5,79.9" stroke="#ff7f00" stroke-width="1"/>
<polyline points="128.2,365.3 199.0,350.3 274.3,335.3 345.7,320.2 397.7,305.2 429.9,290.2 459.3,275.2 486.1,260.2 513.8,245.1 527.2,230.1 534.0,215.1 539.2,200.1 548.2,185.1 553.4,170.0 561.9,155.0 567.8,140.0 574.5,125.0 579.4,110.0 581.8,94.9 583.9,79.9" stroke="#ff7f00" stroke-width="1"/>
<polyline points="135.3,365.3 232.7,350.3 309.1,335.3 379.9,320.2 451.3,305.2 479.1,290.2 500.4,275.2 521.8,260.2 538.0,245.1 551.8,230.1 560.9,215.1 566.7,200.1 573.0,185.1 577.9,170.0 585.0,155.0 589.4,140.0 593.3,125.0 596.9,110.0 597.9,94.9 598.0,79.9" stroke="#ff7f00" stroke-width="1"/>
<polyline points="107.0,365.3 129.7,350.3 157.2,335.3 183.9,320.2 227.4,305.2 270.5,290.2 318.1,275.2 361.5,260.2 399.7,245.1 441.2,230.1 472.3,215.1 493.1,200.1 505.8,185.1 518.9,170.0 527.5,155.0 536.7,140.0 543.2,125.0 547.5,110.0 551.7,94.9 555.6,79.9" stroke="#ff7f00" stroke-width="1"/>
<polyline points="108.2,365.3 135.5,350.3 176.9,335.3 218.6,320.2 244.9,305.2 290.5,290.2 340.8,275.2 387.5,260.2 428.3,245.1 468.7,230.1 497.7,215.1 516.1,200.1 530.2,185.1 540.4,170.0 547.6,155.0 554.7,140.0 558.0,125.0 563.0,110.0 566.6,94.9 569.2,79.9" stroke="#ff7f00" stroke-width="1"/>
<polyline points="107.5,365.3 131.9,350.3 161.8,335.3 188.9,320.2 227.8,305.2 270.8,290.2 318.6,275.2 357.6,260.2 401.5,245.1 444.6,230.1 475.8,215.1 496.7,200.1 509.8,185.1 519.5,170.0 529.9,155.0 539.1,140.0 544.9,125.0 550.5,110.0 553.2,94.9 557.5,79.9" stroke="#ff7f00" stroke-width="1"/>
<polyline points="108.0,365.3 134.5,350.3 170.8,335.3 210.7,320.2 254.0,305.2 305.1,290.2 349.8,275.2 397.0,260.2 445.5,245.1 486.8,230.1 511.9,215.1 525.1,200.1 537.1,185.1 543.8,170.0 554.0,155.0 560.5,140.0 565.6,125.0 569.9,110.0 572.4,94.9 574.7,79.9" stroke="#ff7f00" stroke-width="1"/>
<polyline points="107.2,365.3 129.7,350.3 153.4,335.3 180.9,320.2 224.6,305.2 272.4,290.2 309.1,275.2 354.5,260.2 400.4,245.1 448.3,230.1 480.1,215.1 501.3,200.1 515.7,185.1 525.8,170.0 534.3,155.0 543.2,140.0 549.2,125.0 554.1,110.0 556.6,94.9 560.6,79.9" stroke="#ff7f00" stroke-width="1"/>
<polyline points="108.3,365.3 135.8,350.3 175.9,335.3 215.9,320.2 256.8,305.2 312.1,290.2 358.9,275.2 398.6,260.2 437.4,245.1 481.6,230.1 508.0,215.1 524.4,200.1 537.5,185.1 546.0,170.0 553.9,155.0 560.9,140.0 565.4,125.0 568.7,110.0 572.0,94.9 573.9,79.9" stroke="#ff7f00" stroke-width="1"/>
<polyline points="107.2,365.3 135.1,350.3 182.3,335.3 236.7,320.2 265.3,305.2 299.7,290.2 317.4,275.2 353.2,260.2 391.2,245.1 436.2,230.1 467.7,215.1 488.6,200.1 503.8,185.1 514.5,170.0 524.1,155.0 533.0,140.0 538.2,125.0 542.4,110.0 547.4,94.9 552.9,79.9" stroke="#ff7f00" stroke-width="1"/>
<polyline points="108.2,365.3 138.6,350.3 186.0,335.3 255.9,320.2 294.1,305.2 336.4,290.2 365.8,275.2 384.3,260.2 419.4,245.1 457.4,230.1 485.9,215.1 503.7,200.1 517.4,185.1 526.0,170.0 534.7,155.0 544.0,140.0 551.1,125.0 556.0,110.0 558.7,94.9 561.7,79.9" stroke="#ff7f00" stroke-width="1"/>
<polyline points="108.2,365.3 138.5,350.3 189.1,335.3 251.8,320.2 286.1,305.2 321.0,290.2 347.1,275.2 377.3,260.2 410.2,245.1 451.2,230.1 480.2,215.1 499.7,200.1 512.3,185.1 524.1,170.0 533.9,155.0 542.5,140.0 547.0,125.0 552.2,110.0 555.6,94.9 559.6,79.9" stroke="#ff7f00" stroke-width="1"/>
<polyline points="107.1,365.3 131.9,350.3 171.0,335.3 232.3,320.2 290.9,305.2 335.0,290.2 363.0,275.2 380.6,260.2 409.2,245.1 448.8,230.1 477.5,215.1 496.6,200.1 508.7,185.1 520.0,170.0 529.1,155.0 537.2,140.0 542.4,125.0 546.3,110.0 552.5,94.9 556.0,79.9" stroke="#ff7f00" stroke-width="1"/>
<polyline points="109.7,365.3 143.8,350.3 201.0,335.3 278.8,320.2 311.7,305.2 358.0,290.2 380.6,275.2 398.7,260.2 424.7,245.1 458.6,230.1 486.2,215.1 504.8,200.1 518.6,185.1 530.0,170.0 537.0,155.0 544.5,140.0 549.7,125.0 553.3,110.0 557.6,94.9 561.4,79.9" stroke="#ff7f00" stroke-width="1"/>
<polyline points="105.9,365.3 126.7,350.3 171.1,335.3 238.9,320.2 291.0,305.2 342.4,290.2 370.8,275.2 396.7,260.2 435.2,245.1 471.5,230.1 497.4,215.1 516.5,200.1 530.4,185.1 539.7,170.0 548.9,155.0 556.0,140.0 560.4,125.0 565.4,110.0 568.1,94.9 569.8,79.9" stroke="#ff7f00" stroke-width="1"/>
<polyline points="106.1,365.3 128.8,350.3 167.0,335.3 219.2,320.2 256.3,305.2 299.1,290.2 329.4,275.2 365.5,260.2 399.0,245.1 442.3,230.1 472.0,215.1 494.8,200.1 509.2,185.1 518.7,170.0 528.1,155.0 537.7,140.0 543.1,125.0 547.8,110.0 551.8,94.9 555.8,79.9" stroke="#ff7f00" stroke-width="1"/>
<polyline points="107.6,365.3 133.8,350.3 177.0,335.3 235.4,320.2 285.7,305.2 333.9,290.2 381.2,275.2 410.8,260.2 446.6,245.1 481.7,230.1 507.9,215.1 525.8,200.1 534.5,185.1 545.8,170.0 552.9,155.0 560.6,140.0 564.8,125.0 570.7,110.0 572.8,94.9 573.8,79.9" stroke="#ff7f00" stroke-width="1"/>
<polyline points="108.0,365.3 123.5,350.3 137.4,335.3 144.9,320.2 189.6,305.2 234.6,290.2 282.3,275.2 335.9,260.2 383.8,245.1 433.0,230.1 467.3,215.1 491.0,200.1 504.5,185.1 515.6,170.0 524.3,155.0 534.4,140.0 541.0,125.0 545.8,110.0 549.9,94.9 555.6,79.9" stroke="#ff7f00" stroke-width="1"/>
<polyline points="105.0,365.3 119.6,350.3 133.8,335.3 140.9,320.2 186.3,305.2 230.2,290.2 278.6,275.2 332.5,260.2 380.9,245.1 431.8,230.1 467.5,215.1 492.2,200.1 508.0,185.1 521.1,170.0 532.0,155.0 544.6,140.0 551.5,125.0 558.7,110.0 565.2,94.9 572.0,79.9" stroke="#ff7f00" stroke-width="1"/>
<polyline points="113.1,365.3 128.3,350.3 141.3,335.3 147.6,320.2 193.0,305.2 237.4,290.2 285.2,275.2 339.7,260.2 388.3,245.1 437.8,230.1 473.7,215.1 498.9,200.1 514.1,185.1 527.5,170.0 537.8,155.0 549.1,140.0 556.1,125.0 562.7,110.0 568.9,94.9 575.6,79.9" stroke="#ff7f00" stroke-width="1"/>
<polyline points="107.9,365.3 122.7,350.3 134.9,335.3 140.9,320.2 186.5,305.2 232.0,290.2 279.8,275.2 333.9,260.2 382.1,245.1 432.3,230.1 467.0,215.1 492.1,200.1 506.5,185.1 518.5,170.0 529.1,155.0 539.9,140.0 546.8,125.0 552.9,110.0 559.4,94.9 565.6,79.9" stroke="#ff7f00" stroke-width="1"/>
<polyline points="111.8,365.3 127.1,350.3 140.9,335.3 147.8,320.2 192.3,305.2 237.0,290.2 285.0,275.2 338.0,260.2 386.0,245.1 435.1,230.1 469.8,215.1 493.6,200.1 509.1,185.1 519.2,170.0 528.9,155.0 539.5,140.0 546.2,125.0 551.2,110.0 556.3,94.9 561.6,79.9" stroke="#ff7f00" stroke-width="1"/>
<polyline points="111.1,365.3 125.7,350.3 139.5,335.3 145.8,320.2 190.4,305.2 235.6,290.2 284.4,275.2 337.9,260.2 385.4,245.1 435.7,230.1 471.1,215.1 495.5,200.1 509.9,185.1 521.1,170.0 531.4,155.0 541.4,140.0 548.1,125.0 554.9,110.0 561.0,94.9 568.7,79.9" stroke="#ff7f00" stroke-width="1"/>
<polyline points="100.5,365.3 116.7,350.3 129.5,335.3 137.4,320.2 181.5,305.2 226.2,290.2 274.8,275.2 328.7,260.2 376.8,245.1 426.2,230.1 460.2,215.1 483.7,200.1 497.5,185.1 509.4,170.0 518.5,155.0 527.8,140.0 533.9,125.0 540.0,110.0 544.8,94.9 549.8,79.9" stroke="#ff7f00" stroke-width="1"/>
<polyline points="100.6,365.3 115.3,350.3 128.0,335.3 134.2,320.2 179.7,305.2 224.4,290.2 273.0,275.2 328.6,260.2 377.9,245.1 429.4,230.1 464.1,215.1 488.1,200.1 502.8,185.1 515.5,170.0 525.4,155.0 536.3,140.0 543.7,125.0 550.1,110.0 555.9,94.9 562.1,79.9" stroke="#ff7f00" stroke-width="1"/>
<polyline points="99.9,365.3 114.4,350.3 128.2,335.3 135.0,320.2 180.9,305.2 225.2,290.2 272.5,275.2 326.4,260.2 373.8,245.1 424.8,230.1 459.5,215.1 483.5,200.1 499.9,185.1 510.5,170.0 519.9,155.0 530.4,140.0 536.6,125.0 542.7,110.0 549.2,94.9 555.6,79.9" stroke="#ff7f00" stroke-width="1"/>
<polyline points="106.0,365.3 121.1,350.3 134.8,335.3 142.9,320.2 188.3,305.2 233.8,290.2 281.8,275.2 335.1,260.2 381.7,245.1 432.7,230.1 467.3,215.1 491.4,200.1 507.2,185.1 520.0,170.0 529.5,155.0 541.0,140.0 549.2,125.0 554.8,110.0 561.1,94.9 568.5,79.9" stroke="#ff7f00" stroke-width="1"/>
<polyline points="100.8,365.3 115.1,350.3 127.8,335.3 136.3,320.2 181.1,305.2 227.0,290.2 275.1,275.2 327.6,260.2 375.5,245.1 425.8,230.1 459.8,215.1 483.2,200.1 498.8,185.1 510.4,170.0 520.7,155.0 531.6,140.0 538.4,125.0 545.0,110.0 550.1,94.9 556.4,79.9" stroke="#ff7f00" stroke-width="1"/>
<polyline points="104.5,365.3 119.6,350.3 133.0,335.3 140.9,320.2 185.7,305.2 230.6,290.2 278.7,275.2 332.9,260.2 379.9,245.1 429.2,230.1 466.4,215.1 490.7,200.1 506.2,185.1 518.9,170.0 530.0,155.0 541.5,140.0 549.6,125.0 557.1,110.0 564.2,94.9 572.0,79.9" stroke="#ff7f00" stroke-width="1"/>
<polyline points="100.4,365.3 116.1,350.3 129.3,335.3 135.5,320.2 180.2,305.2 225.9,290.2 273.8,275.2 326.9,260.2 374.2,245.1 425.2,230.1 460.3,215.1 484.2,200.1 499.1,185.1 509.5,170.0 517.4,155.0 527.1,140.0 533.1,125.0 538.9,110.0 544.2,94.9 550.5,79.9" stroke="#ff7f00" stroke-width="1"/>
<polyline points="101.6,365.3 116.2,350.3 129.5,335.3 136.0,320.2 179.9,305.2 224.8,290.2 273.5,275.2 327.8,260.2 375.1,245.1 425.9,230.1 460.2,215.1 484.2,200.1 498.6,185.1 510.1,170.0 518.5,155.0 528.7,140.0 535.7,125.0 540.8,110.0 546.4,94.9 551.3,79.9" stroke="#ff7f00" stroke-width="1"/>
<polyline points="110.2,365.3 124.7,350.3 137.8,335.3 144.1,320.2 190.0,305.2 234.6,290.2 282.1,275.2 334.5,260.2 381.7,245.1 432.7,230.1 467.5,215.1 490.6,200.1 504.7,185.1 515.5,170.0 524.6,155.0 533.0,140.0 537.9,125.0 542.1,110.0 546.6,94.9 551.7,79.9" stroke="#ff7f00" stroke-width="1"/>
<polyline points="113.8,365.3 129.1,350.3 140.9,335.3 148.5,320.2 191.9,305.2 237.5,290.2 285.4,275.2 338.3,260.2 387.4,245.1 437.6,230.1 472.7,215.1 496.0,200.1 510.0,185.1 521.0,170.0 529.7,155.0 539.7,140.0 545.3,125.0 551.0,110.0 557.0,94.9 562.8,79.9" stroke="#ff7f00" stroke-width="1"/>
<polyline points="111.6,365.3 126.1,350.3 139.6,335.3 145.9,320.2 192.3,305.2 237.3,290.2 284.8,275.2 339.2,260.2 386.0,245.1 436.5,230.1 471.5,215.1 497.0,200.1 512.6,185.1 524.9,170.0 536.2,155.0 547.6,140.0 555.3,125.0 562.2,110.0 568.8,94.9 575.0,79.9" stroke="#ff7f00" stroke-width="1"/>
<polyline points="108.7,365.3 123.3,350.3 135.8,335.3 143.4,320.2 188.6,305.2 234.6,290.2 282.7,275.2 336.7,260.2 384.3,245.1 434.9,230.1 469.4,215.1 493.4,200.1 508.5,185.1 520.5,170.0 531.8,155.0 542.4,140.0 549.7,125.0 556.5,110.0 563.2,94.9 569.7,79.9" stroke="#ff7f00" stroke-width="1"/>
<polyline points="109.0,365.3 122.8,350.3 135.7,335.3 142.2,320.2 187.6,305.2 233.1,290.2 280.8,275.2 334.7,260.2 382.6,245.1 433.5,230.1 469.1,215.1 492.4,200.1 506.8,185.1 518.3,170.0 528.4,155.0 538.6,140.0 546.1,125.0 550.9,110.0 556.9,94.9 562.7,79.9" stroke="#ff7f00" stroke-width="1"/>
<polyline points="100.0,365.3 114.7,350.3 128.8,335.3 135.1,320.2 179.6,305.2 225.3,290.2 272.5,275.2 325.6,260.2 373.7,245.1 424.1,230.1 460.2,215.1 485.6,200.1 501.9,185.1 513.9,170.0 523.5,155.0 533.3,140.0 541.9,125.0 549.5,110.0 557.0,94.9 563.7,79.9" stroke="#ff7f00" stroke-width="1"/>
<polyline points="109.5,365.3 123.7,350.3 137.7,335.3 144.4,320.2 189.7,305.2 234.7,290.2 282.2,275.2 335.6,260.2 382.8,245.1 433.2,230.1 467.3,215.1 491.3,200.1 507.3,185.1 518.4,170.0 528.2,155.0 538.9,140.0 544.7,125.0 551.5,110.0 557.2,94.9 562.8,79.9" stroke="#ff7f00" stroke-width="1"/>
<polyline points="101.7,365.3 117.4,350.3 132.0,335.3 137.4,320.2 181.6,305.2 226.7,290.2 275.3,275.2 329.5,260.2 377.2,245.1 428.1,230.1 463.3,215.1 487.7,200.1 502.7,185.1 515.0,170.0 526.5,155.0 537.6,140.0 545.1,125.0 549.9,110.0 556.0,94.9 561.7,79.9" stroke="#ff7f00" stroke-width="1"/>
<polyline points="100.9,365.3 114.8,350.3 127.9,335.3 134.9,320.2 180.0,305.2 225.9,290.2 274.3,275.2 327.6,260.2 375.1,245.1 425.2,230.1 461.9,215.1 487.0,200.1 502.8,185.1 514.7,170.0 526.6,155.0 539.3,140.0 548.0,125.0 555.2,110.0 563.4,94.9 570.5,79.9" stroke="#ff7f00" stroke-width="1"/>
<polyline points="110.7,365.3 125.5,350.3 138.9,335.3 145.8,320.2 191.4,305.2 237.6,290.2 284.6,275.2 339.4,260.2 387.3,245.1 437.5,230.1 473.1,215.1 496.9,200.1 512.2,185.1 521.8,170.0 530.3,155.0 540.5,140.0 547.0,125.0 553.0,110.0 558.8,94.9 565.3,79.9" stroke="#ff7f00" stroke-width="1"/>
<polyline points="97.7,365.3 113.0,350.3 126.1,335.3 132.0,320.2 178.7,305.2 223.6,290.2 271.1,275.2 323.9,260.2 371.3,245.1 421.5,230.1 456.5,215.1 480.8,200.1 494.7,185.1 506.6,170.0 515.3,155.0 526.7,140.0 533.1,125.0 538.8,110.0 544.5,94.9 550.2,79.9" stroke="#ff7f00" stroke-width="1"/>
<polyline points="106.1,365.3 120.1,350.3 134.1,335.3 140.3,320.2 185.4,305.2 229.2,290.2 277.6,275.2 332.5,260.2 378.2,245.1 404.8,230.1 418.3,215.1 427.7,200.1 433.7,185.1 440.1,170.0 445.3,155.0 451.2,140.0 456.6,125.0 461.2,110.0 467.8,94.9 473.5,79.9" stroke="#ff7f00" stroke-width="1"/>
<polyline points="104.6,365.3 120.5,350.3 131.7,335.3 139.2,320.2 185.6,305.2 231.0,290.2 279.2,275.2 332.4,260.2 378.3,245.1 406.5,230.1 422.2,215.1 434.4,200.1 441.4,185.1 449.7,170.0 457.7,155.0 464.5,140.0 472.3,125.0 479.3,110.0 486.1,94.9 492.7,79.9" stroke="#ff7f00" stroke-width="1"/>
<polyline points="106.6,365.3 121.2,350.3 132.5,335.3 140.1,320.2 184.2,305.2 228.4,290.2 277.3,275.2 329.2,260.2 378.9,245.1 405.6,230.1 424.5,215.1 432.8,200.1 438.4,185.1 443.0,170.0 448.5,155.0 454.4,140.0 461.3,125.0 466.7,110.0 473.8,94.9 479.4,79.9" stroke="#ff7f00" stroke-width="1"/>
<polyline points="106.5,365.3 120.2,350.3 134.2,335.3 140.7,320.2 186.3,305.2 232.0,290.2 278.7,275.2 332.6,260.2 376.6,245.1 402.9,230.1 420.4,215.1 431.7,200.1 439.1,185.1 442.8,170.0 446.3,155.0 450.4,140.0 454.8,125.0 460.1,110.0 465.1,94.9 468.1,79.9" stroke="#ff7f00" stroke-width="1"/>
<polyline points="108.0,365.3 122.2,350.3 135.3,335.3 142.5,320.2 189.6,305.2 235.4,290.2 281.6,275.2 336.4,260.2 380.8,245.1 408.2,230.1 425.6,215.1 436.1,200.1 441.3,185.1 448.2,170.0 453.7,155.0 459.5,140.0 465.9,125.0 471.7,110.0 477.8,94.9 482.2,79.9" stroke="#ff7f00" stroke-width="1"/>
<polyline points="108.0,365.3 123.6,350.3 135.4,335.3 141.4,320.2 185.7,305.2 230.4,290.2 279.2,275.2 333.3,260.2 379.4,245.1 410.0,230.1 426.6,215.1 438.8,200.1 446.1,185.1 448.8,170.0 454.1,155.0 458.6,140.0 463.3,125.0 467.8,110.0 473.4,94.9 479.4,79.9" stroke="#ff7f00" stroke-width="1"/>
<polyline points="105.3,365.3 121.7,350.3 133.0,335.3 140.2,320.2 185.6,305.2 231.1,290.2 280.3,275.2 333.3,260.2 380.5,245.1 408.1,230.1 425.8,215.1 434.2,200.1 439.6,185.1 445.8,170.0 451.9,155.0 456.9,140.0 462.3,125.0 469.1,110.0 473.4,94.9 478.9,79.9" stroke="#ff7f00" stroke-width="1"/>
<polyline points="102.6,365.3 117.0,350.3 132.3,335.3 139.1,320.2 186.2,305.2 232.3,290.2 280.2,275.2 337.7,260.2 384.0,245.1 422.9,230.1 446.7,215.1 459.5,200.1 467.4,185.1 472.9,170.0 478.0,155.0 485.8,140.0 491.1,125.0 498.0,110.0 505.1,94.9 511.6,79.9" stroke="#ff7f00" stroke-width="1"/>
<polyline points="105.0,365.3 115.1,350.3 127.4,335.3 135.0,320.2 178.4,305.2 224.8,290.2 277.9,275.2 331.6,260.2 379.2,245.1 425.7,230.1 452.6,215.1 467.5,200.1 476.4,185.1 481.6,170.0 485.4,155.0 492.0,140.0 499.8,125.0 505.6,110.0 509.4,94.9 517.4,79.9" stroke="#ff7f00" stroke-width="1"/>
<polyline points="108.0,365.3 120.6,350.3 135.4,335.3 143.1,320.2 188.3,305.2 230.1,290.2 278.1,275.2 330.5,260.2 375.5,245.1 418.8,230.1 442.2,215.1 457.6,200.1 466.4,185.1 473.7,170.0 478.2,155.0 484.5,140.0 487.8,125.0 495.6,110.0 501.4,94.9 507.2,79.9" stroke="#ff7f00" stroke-width="1"/>
<polyline points="113.5,365.3 127.4,350.3 138.5,335.3 142.9,320.2 188.4,305.2 234.5,290.2 280.8,275.2 334.8,260.2 381.4,245.1 432.8,230.1 463.0,215.1 479.0,200.1 492.6,185.1 497.6,170.0 505.8,155.0 514.9,140.0 521.7,125.0 530.4,110.0 534.5,94.9 544.0,79.9" stroke="#ff7f00" stroke-width="1"/>
<polyline points="102.5,365.3 117.2,350.3 132.1,335.3 138.4,320.2 183.6,305.2 231.3,290.2 280.8,275.2 334.6,260.2 379.1,245.1 431.3,230.1 463.8,215.1 484.0,200.1 493.1,185.1 498.0,170.0 502.7,155.0 509.5,140.0 514.5,125.0 520.0,110.0 527.8,94.9 532.7,79.9" stroke="#ff7f00" stroke-width="1"/>
<polyline points="104.2,365.3 119.7,350.3 136.5,335.3 144.6,320.2 187.2,305.2 232.1,290.2 279.4,275.2 332.1,260.2 380.5,245.1 430.8,230.1 462.6,215.1 485.1,200.1 497.9,185.1 507.0,170.0 510.8,155.0 519.2,140.0 521.5,125.0 527.1,110.0 531.4,94.9 536.9,79.9" stroke="#ff7f00" stroke-width="1"/>
<polyline points="112.8,365.3 127.5,350.3 139.4,335.3 147.2,320.2 191.1,305.2 234.9,290.2 282.8,275.2 335.2,260.2 382.9,245.1 434.3,230.1 465.9,215.1 488.8,200.1 502.2,185.1 511.2,170.0 517.5,155.0 523.4,140.0 528.8,125.0 537.6,110.0 545.6,94.9 552.9,79.9" stroke="#ff7f00" stroke-width="1"/>
<polyline points="100.0,365.3 115.8,350.3 129.0,335.3 134.8,320.2 181.1,305.2 226.8,290.2 275.4,275.2 331.6,260.2 363.5,245.1 382.2,230.1 393.5,215.1 400.1,200.1 405.8,185.1 412.3,170.0 419.4,155.0 426.6,140.0 433.1,125.0 438.8,110.0 444.8,94.9 453.7,79.9" stroke="#ff7f00" stroke-width="1"/>
<polyline points="103.7,365.3 120.2,350.3 130.5,335.3 132.6,320.2 160.6,305.2 203.0,290.2 252.7,275.2 312.5,260.2 370.2,245.1 426.9,230.1 462.1,215.1 482.8,200.1 495.0,185.1 501.9,170.0 507.8,155.0 512.8,140.0 518.2,125.0 524.2,110.0 529.4,94.9 534.8,79.9" stroke="#ff7f00" stroke-width="1"/>
<polyline points="104.9,365.3 119.9,350.3 132.6,335.3 136.2,320.2 170.6,305.2 212.5,290.2 262.0,275.2 319.5,260.2 373.5,245.1 428.1,230.1 463.3,215.1 488.6,200.1 504.7,185.1 513.7,170.0 520.9,155.0 528.5,140.0 535.1,125.0 541.3,110.0 547.9,94.9 554.3,79.9" stroke="#ff7f00" stroke-width="1"/>
<polyline points="105.5,365.3 118.7,350.3 130.4,335.3 134.3,320.2 167.5,305.2 211.6,290.2 261.0,275.2 318.0,260.2 372.0,245.1 426.9,230.1 461.8,215.1 488.6,200.1 503.3,185.1 512.5,170.0 520.7,155.0 527.2,140.0 533.7,125.0 540.2,110.0 545.9,94.9 552.5,79.9" stroke="#ff7f00" stroke-width="1"/>
<polyline points="104.6,365.3 119.8,350.3 131.2,335.3 135.0,320.2 168.1,305.2 211.6,290.2 261.8,275.2 318.9,260.2 373.0,245.1 428.2,230.1 463.9,215.1 490.9,200.1 506.2,185.1 515.9,170.0 522.0,155.0 528.9,140.0 535.5,125.0 541.6,110.0 548.4,94.9 554.5,79.9" stroke="#ff7f00" stroke-width="1"/>
<polyline points="105.4,365.3 121.0,350.3 132.7,335.3 136.3,320.2 169.8,305.2 213.9,290.2 263.6,275.2 321.0,260.2 375.5,245.1 429.2,230.1 462.4,215.1 485.1,200.1 498.0,185.1 504.3,170.0 510.3,155.0 516.6,140.0 523.5,125.0 529.8,110.0 535.1,94.9 542.0,79.9" stroke="#ff7f00" stroke-width="1"/>
<polyline points="104.5,365.3 118.4,350.3 131.5,335.3 135.7,320.2 171.1,305.2 215.1,290.2 264.6,275.2 321.1,260.2 374.7,245.1 427.9,230.1 462.9,215.1 490.9,200.1 508.1,185.1 517.3,170.0 523.2,155.0 529.3,140.0 536.5,125.0 542.3,110.0 548.8,94.9 554.7,79.9" stroke="#ff7f00" stroke-width="1"/>
<polyline points="94.8,365.3 103.4,350.3 109.7,335.3 114.1,320.2 120.2,305.2 124.5,290.2 130.0,275.2 134.5,260.2 138.3,245.1 140.2,230.1 142.0,215.1 144.2,200.1 146.1,185.1 147.7,170.0 149.1,155.0 151.0,140.0 153.7,125.0 156.4,110.0 157.8,94.9 159.6,79.9" stroke="#ff7f00" stroke-width="1"/>
<polyline points="97.3,365.3 101.6,350.3 106.5,335.3 109.8,320.2 112.6,305.2 117.1,290.2 121.5,275.2 126.6,260.2 130.1,245.1 133.0,230.1 135.9,215.1 138.2,200.1 140.8,185.1 143.5,170.0 146.5,155.0 149.4,140.0 151.8,125.0 155.4,110.0 158.1,94.9 160.7,79.9" stroke="#ff7f00" stroke-width="1"/>
<polyline points="93.3,365.3 98.8,350.3 101.9,335.3 104.7,320.2 107.4,305.2 110.7,290.2 113.6,275.2 117.0,260.2 120.8,245.1 125.4,230.1 127.8,215.1 130.2,200.1 133.0,185.1 135.5,170.0 138.1,155.0 140.5,140.0 142.8,125.0 145.0,110.0 148.3,94.9 152.1,79.9" stroke="#ff7f00" stroke-width="1"/>
<polyline points="97.2,365.3 103.4,350.3 106.7,335.3 110.8,320.2 114.3,305.2 118.1,290.2 121.1,275.2 124.5,260.2 127.7,245.1 131.0,230.1 133.8,215.1 136.1,200.1 139.0,185.1 141.2,170.0 143.8,155.0 145.8,140.0 148.7,125.0 151.6,110.0 154.7,94.9 157.4,79.9" stroke="#ff7f00" stroke-width="1"/>
<polyline points="90.8,365.3 98.6,350.3 103.5,335.3 107.6,320.2 113.1,305.2 117.3,290.2 121.7,275.2 126.1,260.2 129.7,245.1 134.4,230.1 138.4,215.1 141.0,200.1 145.0,185.1 148.3,170.0 151.6,155.0 154.5,140.0 157.3,125.0 160.9,110.0 164.6,94.9 167.9,79.9" stroke="#ff7f00" stroke-width="1"/>
<polyline points="88.6,365.3 95.1,350.3 99.3,335.3 103.5,320.2 107.5,305.2 112.5,290.2 116.2,275.2 120.1,260.2 123.6,245.1 126.9,230.1 130.2,215.1 133.1,200.1 136.0,185.1 139.2,170.0 142.0,155.0 146.0,140.0 151.1,125.0 155.3,110.0 158.0,94.9 160.7,79.9" stroke="#ff7f00" stroke-width="1"/>
<polyline points="96.1,365.3 104.1,350.3 110.7,335.3 115.7,320.2 121.7,305.2 124.3,290.2 126.6,275.2 129.9,260.2 132.6,245.1 136.0,230.1 139.1,215.1 141.7,200.1 143.8,185.1 146.0,170.0 148.2,155.0 151.0,140.0 154.1,125.0 156.8,110.0 159.3,94.9 161.8,79.9" stroke="#ff7f00" stroke-width="1"/>
<polyline points="91.2,365.3 99.0,350.3 103.0,335.3 105.9,320.2 108.5,305.2 112.8,290.2 116.9,275.2 119.5,260.2 121.6,245.1 123.8,230.1 126.8,215.1 129.7,200.1 134.2,185.1 137.5,170.0 142.1,155.0 146.0,140.0 149.3,125.0 152.6,110.0 155.4,94.9 158.2,79.9" stroke="#ff7f00" stroke-width="1"/>
<polyline points="95.4,365.3 105.3,350.3 110.8,335.3 116.8,320.2 122.5,305.2 125.2,290.2 128.6,275.2 131.7,260.2 135.0,245.1 138.8,230.1 141.4,215.1 144.5,200.1 147.3,185.1 150.1,170.0 152.5,155.0 155.4,140.0 157.5,125.0 159.6,110.0 162.0,94.9 163.8,79.9" stroke="#ff7f00" stroke-width="1"/>
<polyline points="96.6,365.3 105.6,350.3 111.1,335.3 115.6,320.2 119.9,305.2 122.5,290.2 125.2,275.2 127.5,260.2 129.6,245.1 131.9,230.1 135.1,215.1 138.3,200.1 141.4,185.1 145.0,170.0 148.0,155.0 150.5,140.0 152.7,125.0 155.1,110.0 157.9,94.9 161.5,79.9" stroke="#ff7f00" stroke-width="1"/>
<polyline points="92.2,365.3 102.3,350.3 108.1,335.3 113.0,320.2 118.0,305.2 121.9,290.2 126.4,275.2 130.0,260.2 133.1,245.1 135.9,230.1 139.8,215.1 142.9,200.1 145.7,185.1 147.8,170.0 150.4,155.0 153.2,140.0 155.6,125.0 158.5,110.0 161.7,94.9 164.5,79.9" stroke="#ff7f00" stroke-width="1"/>
<polyline points="92.4,365.3 100.7,350.3 107.1,335.3 111.2,320.2 115.0,305.2 118.9,290.2 122.3,275.2 126.5,260.2 129.5,245.1 131.1,230.1 133.8,215.1 136.6,200.1 139.4,185.1 141.8,170.0 144.3,155.0 148.1,140.0 150.4,125.0 152.2,110.0 154.4,94.9 157.7,79.9" stroke="#ff7f00" stroke-width="1"/>
<polyline points="89.5,365.3 96.6,350.3 100.5,335.3 104.0,320.2 107.1,305.2 110.9,290.2 115.0,275.2 120.1,260.2 124.0,245.1 127.1,230.1 130.0,215.1 133.8,200.1 139.0,185.1 145.3,170.0 149.3,155.0 152.9,140.0 156.9,125.0 160.3,110.0 163.7,94.9 168.8,79.9" stroke="#ff7f00" stroke-width="1"/>
<polyline points="91.8,365.3 106.9,350.3 111.9,335.3 115.2,320.2 117.5,305.2 120.2,290.2 124.0,275.2 127.5,260.2 131.0,245.1 133.4,230.1 135.8,215.1 139.3,200.1 142.1,185.1 144.5,170.0 147.7,155.0 150.6,140.0 153.7,125.0 156.3,110.0 157.8,94.9 159.8,79.9" stroke="#ff7f00" stroke-width="1"/>
<polyline points="95.7,365.3 104.7,350.3 110.7,335.3 115.2,320.2 119.3,305.2 122.4,290.2 125.8,275.2 127.9,260.2 130.7,245.1 133.7,230.1 136.3,215.1 138.5,200.1 140.5,185.1 142.7,170.0 144.7,155.0 146.5,140.0 149.0,125.0 151.2,110.0 153.3,94.9 154.9,79.9" stroke="#ff7f00" stroke-width="1"/>
<polyline points="92.8,365.3 102.0,350.3 105.9,335.3 110.5,320.2 113.2,305.2 116.2,290.2 120.1,275.2 125.8,260.2 130.4,245.1 134.1,230.1 137.4,215.1 141.2,200.1 143.6,185.1 146.0,170.0 148.6,155.0 150.6,140.0 153.7,125.0 157.2,110.0 160.0,94.9 164.1,79.9" stroke="#ff7f00" stroke-width="1"/>
<polyline points="83.4,365.3 96.9,350.3 103.5,335.3 111.8,320.2 117.2,305.2 121.9,290.2 126.8,275.2 131.4,260.2 134.7,245.1 138.0,230.1 141.2,215.1 144.4,200.1 148.1,185.1 151.1,170.0 152.9,155.0 155.2,140.0 157.6,125.0 160.2,110.0 162.3,94.9 164.3,79.9" stroke="#ff7f00" stroke-width="1"/>
<polyline points="89.3,365.3 101.2,350.3 107.1,335.3 112.0,320.2 117.6,305.2 120.8,290.2 124.8,275.2 128.6,260.2 131.4,245.1 134.2,230.1 137.0,215.1 139.4,200.1 142.0,185.1 144.6,170.0 147.1,155.0 149.6,140.0 151.6,125.0 153.3,110.0 154.9,94.9 156.6,79.9" stroke="#ff7f00" stroke-width="1"/>
<polyline points="84.9,365.3 98.3,350.3 105.8,335.3 113.0,320.2 118.9,305.2 123.3,290.2 126.8,275.2 131.2,260.2 134.2,245.1 136.7,230.1 139.7,215.1 142.9,200.1 145.6,185.1 149.6,170.0 154.0,155.0 158.0,140.0 160.4,125.0 163.7,110.0 167.4,94.9 169.9,79.9" stroke="#ff7f00" stroke-width="1"/>
<polyline points="90.5,365.3 100.0,350.3 104.6,335.3 107.7,320.2 111.0,305.2 114.4,290.2 120.8,275.2 125.5,260.2 129.7,245.1 133.6,230.1 136.3,215.1 138.8,200.1 141.8,185.1 145.0,170.0 148.4,155.0 151.7,140.0 155.7,125.0 158.3,110.0 162.1,94.9 166.2,79.9" stroke="#ff7f00" stroke-width="1"/>
<polyline points="91.3,365.3 96.3,350.3 100.9,335.3 106.1,320.2 114.5,305.2 119.5,290.2 124.3,275.2 129.1,260.2 135.2,245.1 139.1,230.1 142.4,215.1 145.0,200.1 147.1,185.1 148.9,170.0 150.8,155.0 154.1,140.0 157.4,125.0 160.6,110.0 163.3,94.9 166.7,79.9" stroke="#ff7f00" stroke-width="1"/>
<polyline points="89.6,365.3 98.7,350.3 104.0,335.3 107.8,320.2 111.1,305.2 115.1,290.2 119.4,275.2 122.8,260.2 126.4,245.1 130.0,230.1 134.4,215.1 140.1,200.1 144.0,185.1 146.5,170.0 148.8,155.0 151.7,140.0 154.4,125.0 156.8,110.0 159.8,94.9 162.1,79.9" stroke="#ff7f00" stroke-width="1"/>
<polyline points="89.5,365.3 99.3,350.3 104.3,335.3 110.1,320.2 114.3,305.2 118.7,290.2 122.2,275.2 125.4,260.2 128.1,245.1 131.5,230.1 135.4,215.1 137.8,200.1 140.8,185.1 143.4,170.0 146.0,155.0 148.6,140.0 151.4,125.0 154.2,110.0 156.5,94.9 158.8,79.9" stroke="#ff7f00" stroke-width="1"/>
<polyline points="95.3,365.3 104.6,350.3 111.4,335.3 117.3,320.2 122.8,305.2 127.9,290.2 131.4,275.2 134.2,260.2 136.6,245.1 139.6,230.1 142.4,215.1 145.8,200.1 148.8,185.1 151.2,170.0 153.8,155.0 156.3,140.0 158.7,125.0 161.1,110.0 164.1,94.9 167.0,79.9" stroke="#ff7f00" stroke-width="1"/>
<polyline points="97.4,365.3 105.3,350.3 110.4,335.3 115.2,320.2 119.2,305.2 123.1,290.2 126.6,275.2 129.8,260.2 133.2,245.1 136.7,230.1 140.8,215.1 143.8,200.1 146.7,185.1 149.6,170.0 152.5,155.0 155.2,140.0 157.6,125.0 160.4,110.0 164.0,94.9 167.2,79.9" stroke="#ff7f00" stroke-width="1"/>
<polyline points="89.7,365.3 101.0,350.3 106.9,335.3 111.7,320.2 116.8,305.2 122.8,290.2 127.1,275.2 132.1,260.2 136.0,245.1 139.2,230.1 142.2,215.1 144.7,200.1 147.9,185.1 150.9,170.0 155.0,155.0 158.0,140.0 159.8,125.0 162.1,110.0 164.5,94.9 167.1,79.9" stroke="#ff7f00" stroke-width="1"/>
<polyline points="82.9,365.3 89.7,350.3 94.4,335.3 98.4,320.2 102.5,305.2 106.8,290.2 111.1,275.2 115.0,260.2 118.3,245.1 122.9,230.1 128.3,215.1 132.4,200.1 135.9,185.1 138.9,170.0 142.3,155.0 146.2,140.0 150.6,125.0 154.4,110.0 158.5,94.9 161.7,79.9" stroke="#ff7f00" stroke-width="1"/>
<polyline points="96.7,365.3 103.2,350.3 108.2,335.3 111.8,320.2 116.8,305.2 120.7,290.2 125.3,275.2 129.0,260.2 133.2,245.1 136.7,230.1 139.6,215.1 142.8,200.1 145.8,185.1 148.7,170.0 151.1,155.0 152.9,140.0 154.7,125.0 156.9,110.0 158.4,94.9 160.1,79.9" stroke="#ff7f00" stroke-width="1"/>
<polyline points="93.1,365.3 102.7,350.3 108.5,335.3 112.0,320.2 115.7,305.2 119.4,290.2 122.6,275.2 124.9,260.2 128.4,245.1 131.2,230.1 133.1,215.1 135.2,200.1 137.2,185.1 139.3,170.0 141.8,155.0 144.1,140.0 146.6,125.0 148.9,110.0 151.5,94.9 154.1,79.9" stroke="#ff7f00" stroke-width="1"/>
<polyline points="92.5,365.3 103.6,350.3 109.5,335.3 114.7,320.2 120.0,305.2 122.9,290.2 126.3,275.2 130.0,260.2 132.9,245.1 137.0,230.1 140.4,215.1 143.0,200.1 145.4,185.1 147.5,170.0 149.6,155.0 152.2,140.0 154.6,125.0 157.4,110.0 159.2,94.9 162.3,79.9" stroke="#ff7f00" stroke-width="1"/>
<polyline points="90.8,365.3 98.6,350.3 104.1,335.3 108.0,320.2 111.6,305.2 115.4,290.2 118.1,275.2 121.4,260.2 125.9,245.1 130.1,230.1 134.5,215.1 139.5,200.1 143.3,185.1 147.0,170.0 150.7,155.0 153.3,140.0 156.4,125.0 159.8,110.0 163.8,94.9 167.9,79.9" stroke="#ff7f00" stroke-width="1"/>
<polyline points="84.7,365.3 94.9,350.3 99.3,335.3 103.7,320.2 107.3,305.2 111.0,290.2 113.5,275.2 115.8,260.2 118.5,245.1 121.2,230.1 124.1,215.1 127.8,200.1 130.5,185.1 133.1,170.0 136.8,155.0 141.0,140.0 144.3,125.0 148.2,110.0 152.2,94.9 155.1,79.9" stroke="#ff7f00" stroke-width="1"/>
<polyline points="92.3,365.3 100.0,350.3 104.3,335.3 107.7,320.2 111.3,305.2 115.1,290.2 118.7,275.2 121.1,260.2 123.5,245.1 126.0,230.1 128.7,215.1 131.7,200.1 134.4,185.1 137.8,170.0 140.5,155.0 143.9,140.0 147.5,125.0 151.1,110.0 154.2,94.9 156.9,79.9" stroke="#ff7f00" stroke-width="1"/>
<polyline points="87.4,365.3 97.1,350.3 102.6,335.3 107.6,320.2 112.6,305.2 117.2,290.2 121.7,275.2 125.8,260.2 129.8,245.1 133.3,230.1 136.2,215.1 138.7,200.1 140.8,185.1 143.6,170.0 146.8,155.0 151.5,140.0 154.5,125.0 157.4,110.0 159.4,94.9 162.1,79.9" stroke="#ff7f00" stroke-width="1"/>
<polyline points="85.8,365.3 97.0,350.3 102.8,335.3 109.5,320.2 114.3,305.2 119.4,290.2 123.8,275.2 127.8,260.2 131.5,245.1 134.8,230.1 137.4,215.1 140.4,200.1 142.7,185.1 145.2,170.0 147.4,155.0 149.6,140.0 152.2,125.0 154.5,110.0 157.2,94.9 159.3,79.9" stroke="#ff7f00" stroke-width="1"/>
<polyline points="90.8,365.3 97.5,350.3 102.1,335.3 106.5,320.2 110.6,305.2 114.2,290.2 117.1,275.2 121.0,260.2 124.2,245.1 126.9,230.1 129.3,215.1 132.5,200.1 135.9,185.1 139.3,170.0 141.9,155.0 144.4,140.0 147.0,125.0 149.3,110.0 151.4,94.9 153.4,79.9" stroke="#ff7f00" stroke-width="1"/>
<polyline points="93.0,365.3 101.4,350.3 107.2,335.3 113.1,320.2 118.7,305.2 122.3,290.2 126.3,275.2 129.4,260.2 132.4,245.1 135.8,230.1 140.1,215.1 143.5,200.1 146.2,185.1 150.2,170.0 153.2,155.0 155.5,140.0 158.4,125.0 161.3,110.0 164.5,94.9 169.9,79.9" stroke="#ff7f00" stroke-width="1"/>
<polyline points="84.8,365.3 91.6,350.3 97.2,335.3 101.8,320.2 106.5,305.2 109.7,290.2 112.9,275.2 115.9,260.2 120.9,245.1 123.7,230.1 126.5,215.1 128.9,200.1 131.3,185.1 134.5,170.0 138.4,155.0 141.1,140.0 144.0,125.0 147.3,110.0 149.9,94.9 152.9,79.9" stroke="#ff7f00" stroke-width="1"/>
<polyline points="89.5,365.3 96.0,350.3 100.1,335.3 104.2,320.2 106.8,305.2 110.2,290.2 113.6,275.2 117.3,260.2 121.3,245.1 126.0,230.1 129.7,215.1 133.0,200.1 136.4,185.1 140.4,170.0 144.2,155.0 147.7,140.0 151.2,125.0 155.1,110.0 158.0,94.9 161.3,79.9" stroke="#ff7f00" stroke-width="1"/>
<polyline points="91.0,365.3 97.8,350.3 102.2,335.3 107.3,320.2 112.8,305.2 117.7,290.2 121.5,275.2 125.2,260.2 129.6,245.1 134.1,230.1 139.1,215.1 143.5,200.1 146.6,185.1 148.8,170.0 151.2,155.0 153.8,140.0 156.7,125.0 159.3,110.0 161.3,94.9 163.9,79.9" stroke="#ff7f00" stroke-width="1"/>
<polyline points="95.9,365.3 104.6,350.3 113.5,335.3 120.7,320.2 123.6,305.2 127.2,290.2 129.4,275.2 136.7,260.2 145.0,245.1 153.2,230.1 160.4,215.1 165.9,200.1 175.2,185.1 187.7,170.0 193.0,155.0 195.7,140.0 201.3,125.0 203.4,110.0 204.9,94.9 208.6,79.9" stroke="#ff7f00" stroke-width="1"/>
<polyline points="99.5,365.3 105.2,350.3 109.7,335.3 113.2,320.2 116.9,305.2 119.7,290.2 122.7,275.2 127.0,260.2 130.2,245.1 138.4,230.1 141.1,215.1 145.2,200.1 149.7,185.1 154.6,170.0 160.8,155.0 165.5,140.0 171.7,125.0 175.6,110.0 179.0,94.9 181.6,79.9" stroke="#ff7f00" stroke-width="1"/>
<polyline points="88.9,365.3 90.4,350.3 93.0,335.3 95.3,320.2 99.0,305.2 105.2,290.2 111.7,275.2 118.7,260.2 122.6,245.1 126.2,230.1 130.5,215.1 134.4,200.1 138.6,185.1 142.4,170.0 148.1,155.0 152.3,140.0 157.8,125.0 164.9,110.0 169.5,94.9 172.4,79.9" stroke="#ff7f00" stroke-width="1"/>
<polyline points="98.7,365.3 124.7,350.3 129.6,335.3 135.8,320.2 138.8,305.2 143.3,290.2 146.6,275.2 150.0,260.2 152.5,245.1 156.9,230.1 159.0,215.1 162.0,200.1 164.3,185.1 165.8,170.0 168.1,155.0 173.6,140.0 179.1,125.0 182.3,110.0 186.5,94.9 189.0,79.9" stroke="#ff7f00" stroke-width="1"/>
<polyline points="85.4,365.3 90.5,350.3 95.2,335.3 101.0,320.2 111.1,305.2 118.8,290.2 122.6,275.2 124.7,260.2 128.7,245.1 131.5,230.1 135.6,215.1 140.2,200.1 147.5,185.1 152.5,170.0 155.4,155.0 159.6,140.0 163.0,125.0 168.8,110.0 176.8,94.9 180.9,79.9" stroke="#ff7f00" stroke-width="1"/>
<polyline points="94.8,365.3 112.3,350.3 119.3,335.3 130.2,320.2 136.7,305.2 141.0,290.2 149.3,275.2 155.4,260.2 159.0,245.1 170.4,230.1 182.5,215.1 189.5,200.1 192.0,185.1 193.9,170.0 197.8,155.0 199.7,140.0 201.9,125.0 203.3,110.0 205.3,94.9 206.5,79.9" stroke="#ff7f00" stroke-width="1"/>
<polyline points="92.2,365.3 112.6,350.3 122.9,335.3 128.7,320.2 137.0,305.2 140.8,290.2 143.4,275.2 148.1,260.2 156.9,245.1 161.5,230.1 165.2,215.1 167.5,200.1 169.3,185.1 172.2,170.0 174.6,155.0 178.3,140.0 182.3,125.0 184.1,110.0 185.8,94.9 189.2,79.9" stroke="#ff7f00" stroke-width="1"/>
<polyline points="86.2,365.3 111.3,350.3 119.9,335.3 124.2,320.2 126.9,305.2 134.2,290.2 139.1,275.2 144.5,260.2 147.9,245.1 152.3,230.1 157.2,215.1 163.1,200.1 167.1,185.1 169.3,170.0 173.8,155.0 179.0,140.0 182.5,125.0 185.6,110.0 188.2,94.9 193.3,79.9" stroke="#ff7f00" stroke-width="1"/>
<polyline points="101.3,365.3 115.9,350.3 122.6,335.3 127.2,320.2 131.8,305.2 137.5,290.2 145.3,275.2 154.4,260.2 164.4,245.1 173.0,230.1 177.3,215.1 181.9,200.1 183.9,185.1 187.2,170.0 189.7,155.0 191.8,140.0 193.5,125.0 195.3,110.0 198.4,94.9 201.7,79.9" stroke="#ff7f00" stroke-width="1"/>
<polyline points="101.8,365.3 114.0,350.3 119.2,335.3 122.3,320.2 127.5,305.2 135.6,290.2 142.6,275.2 147.6,260.2 152.3,245.1 156.8,230.1 163.5,215.1 170.4,200.1 175.4,185.1 178.0,170.0 180.1,155.0 183.9,140.0 187.2,125.0 192.2,110.0 197.9,94.9 205.4,79.9" stroke="#ff7f00" stroke-width="1"/>
<polyline points="97.7,365.3 107.4,350.3 114.4,335.3 118.7,320.2 122.5,305.2 126.8,290.2 131.7,275.2 133.9,260.2 136.7,245.1 140.2,230.1 142.9,215.1 148.4,200.1 155.4,185.1 166.9,170.0 179.7,155.0 193.5,140.0 200.9,125.0 204.2,110.0 205.9,94.9 207.7,79.9" stroke="#ff7f00" stroke-width="1"/>
<polyline points="104.1,365.3 114.8,350.3 117.9,335.3 121.2,320.2 126.8,305.2 135.3,290.2 138.5,275.2 142.3,260.2 145.7,245.1 149.8,230.1 151.7,215.1 153.6,200.1 155.7,185.1 159.5,170.0 163.0,155.0 165.5,140.0 170.2,125.0 174.7,110.0 180.0,94.9 189.5,79.9" stroke="#ff7f00" stroke-width="1"/>
<polyline points="97.8,365.3 114.5,350.3 123.3,335.3 128.0,320.2 132.2,305.2 135.5,290.2 138.1,275.2 147.1,260.2 152.7,245.1 159.0,230.1 161.4,215.1 164.3,200.1 168.4,185.1 171.8,170.0 177.0,155.0 180.9,140.0 184.6,125.0 188.4,110.0 192.6,94.9 197.4,79.9" stroke="#ff7f00" stroke-width="1"/>
<polyline points="97.7,365.3 105.8,350.3 110.9,335.3 113.5,320.2 117.9,305.2 119.7,290.2 121.8,275.2 126.3,260.2 133.3,245.1 140.4,230.1 153.8,215.1 159.7,200.1 162.5,185.1 165.4,170.0 169.0,155.0 171.7,140.0 175.8,125.0 178.8,110.0 182.7,94.9 185.3,79.9" stroke="#ff7f00" stroke-width="1"/>
<polyline points="104.2,365.3 125.5,350.3 132.4,335.3 137.5,320.2 141.7,305.2 146.2,290.2 149.8,275.2 151.8,260.2 154.8,245.1 160.6,230.1 167.2,215.1 171.1,200.1 174.6,185.1 178.5,170.0 179.9,155.0 182.5,140.0 186.3,125.0 189.1,110.0 191.7,94.9 194.1,79.9" stroke="#ff7f00" stroke-width="1"/>
<polyline points="102.2,365.3 105.2,350.3 107.8,335.3 111.2,320.2 116.7,305.2 122.0,290.2 125.9,275.2 128.3,260.2 133.6,245.1 140.6,230.1 146.9,215.1 150.3,200.1 155.0,185.1 159.5,170.0 162.8,155.0 166.1,140.0 169.4,125.0 172.7,110.0 178.5,94.9 182.2,79.9" stroke="#ff7f00" stroke-width="1"/>
<polyline points="104.1,365.3 124.3,350.3 134.2,335.3 140.8,320.2 143.6,305.2 146.9,290.2 148.8,275.2 150.7,260.2 152.0,245.1 154.7,230.1 157.7,215.1 162.0,200.1 163.4,185.1 165.6,170.0 167.7,155.0 169.2,140.0 170.7,125.0 171.9,110.0 173.1,94.9 173.9,79.9" stroke="#ff7f00" stroke-width="1"/>
<polyline points="91.6,365.3 96.7,350.3 100.0,335.3 102.2,320.2 104.4,305.2 106.1,290.2 108.4,275.2 111.0,260.2 113.0,245.1 114.5,230.1 116.2,215.1 118.0,200.1 119.8,185.1 121.4,170.0 123.6,155.0 126.6,140.0 128.7,125.0 130.7,110.0 132.4,94.9 134.6,79.9" stroke="#ff7f00" stroke-width="1"/>
<polyline points="81.9,365.3 85.7,350.3 88.6,335.3 90.7,320.2 93.0,305.2 94.9,290.2 97.3,275.2 101.6,260.2 106.5,245.1 110.0,230.1 114.7,215.1 118.1,200.1 121.9,185.1 124.2,170.0 126.9,155.0 128.7,140.0 131.5,125.0 134.9,110.0 137.2,94.9 140.1,79.9" stroke="#ff7f00" stroke-width="1"/>
<polyline points="85.9,365.3 93.5,350.3 96.7,335.3 101.5,320.2 105.0,305.2 108.3,290.2 110.6,275.2 113.4,260.2 117.6,245.1 122.7,230.1 126.6,215.1 129.2,200.1 131.3,185.1 133.9,170.0 137.0,155.0 140.1,140.0 142.9,125.0 145.5,110.0 148.0,94.9 150.2,79.9" stroke="#ff7f00" stroke-width="1"/>
<polyline points="90.2,365.3 92.4,350.3 94.5,335.3 96.5,320.2 98.6,305.2 101.4,290.2 104.5,275.2 106.4,260.2 109.9,245.1 113.1,230.1 115.9,215.1 118.6,200.1 120.9,185.1 123.0,170.0 124.8,155.0 126.9,140.0 128.7,125.0 130.7,110.0 132.4,94.9 134.5,79.9" stroke="#ff7f00" stroke-width="1"/>
<polyline points="87.9,365.3 94.0,350.3 98.7,335.3 103.1,320.2 106.8,305.2 109.5,290.2 112.0,275.2 114.1,260.2 116.9,245.1 118.7,230.1 120.6,215.1 122.6,200.1 125.5,185.1 128.6,170.0 132.1,155.0 134.5,140.0 136.8,125.0 138.3,110.0 140.9,94.9 142.6,79.9" stroke="#ff7f00" stroke-width="1"/>
<polyline points="85.6,365.3 97.0,350.3 103.1,335.3 107.2,320.2 110.4,305.2 114.7,290.2 117.5,275.2 120.3,260.2 122.8,245.1 126.0,230.1 128.9,215.1 131.5,200.1 134.9,185.1 137.8,170.0 140.7,155.0 143.4,140.0 145.8,125.0 148.1,110.0 149.5,94.9 151.8,79.9" stroke="#ff7f00" stroke-width="1"/>
<polyline points="80.5,365.3 84.4,350.3 87.8,335.3 91.2,320.2 95.3,305.2 99.1,290.2 101.8,275.2 104.7,260.2 110.4,245.1 114.8,230.1 117.8,215.1 120.1,200.1 123.7,185.1 126.3,170.0 129.1,155.0 132.6,140.0 136.1,125.0 140.4,110.0 144.7,94.9 149.5,79.9" stroke="#ff7f00" stroke-width="1"/>
<polyline points="86.7,365.3 91.5,350.3 95.6,335.3 98.5,320.2 101.5,305.2 104.2,290.2 106.9,275.2 109.0,260.2 111.2,245.1 113.5,230.1 116.2,215.1 118.5,200.1 120.9,185.1 122.8,170.0 126.4,155.0 129.4,140.0 132.0,125.0 134.2,110.0 136.9,94.9 140.8,79.9" stroke="#ff7f00" stroke-width="1"/>
<polyline points="79.0,365.3 81.5,350.3 82.8,335.3 83.9,320.2 84.9,305.2 85.8,290.2 86.7,275.2 87.6,260.2 88.2,245.1 89.0,230.1 89.8,215.1 90.5,200.1 91.1,185.1 91.8,170.0 92.4,155.0 93.0,140.0 93.6,125.0 94.0,110.0 94.6,94.9 95.0,79.9" stroke="#ff7f00" stroke-width="1"/>
<polyline points="80.0,365.3 82.4,350.3 84.3,335.3 85.6,320.2 87.3,305.2 89.2,290.2 91.4,275.2 93.4,260.2 95.1,245.1 96.8,230.1 99.0,215.1 101.0,200.1 103.1,185.1 105.0,170.0 107.1,155.0 108.8,140.0 110.7,125.0 112.3,110.0 114.3,94.9 116.5,79.9" stroke="#ff7f00" stroke-width="1"/>
<polyline points="81.0,365.3 83.0,350.3 85.0,335.3 87.3,320.2 89.0,305.2 91.1,290.2 93.6,275.2 95.8,260.2 97.7,245.1 99.2,230.1 101.3,215.1 103.1,200.1 105.4,185.1 107.7,170.0 109.9,155.0 112.5,140.0 114.7,125.0 117.0,110.0 119.1,94.9 121.0,79.9" stroke="#ff7f00" stroke-width="1"/>
<polyline points="82.0,365.3 84.3,350.3 86.8,335.3 89.2,320.2 91.2,305.2 93.4,290.2 95.9,275.2 98.7,260.2 101.7,245.1 103.7,230.1 105.9,215.1 107.9,200.1 110.0,185.1 111.8,170.0 114.0,155.0 116.4,140.0 118.4,125.0 120.3,110.0 122.6,94.9 125.0,79.9" stroke="#ff7f00" stroke-width="1"/>
<polyline points="83.0,365.3 86.7,350.3 89.5,335.3 92.3,320.2 94.6,305.2 97.0,290.2 99.3,275.2 102.3,260.2 104.6,245.1 106.8,230.1 109.0,215.1 112.2,200.1 115.2,185.1 117.9,170.0 120.2,155.0 122.7,140.0 125.0,125.0 128.0,110.0 130.5,94.9 133.5,79.9" stroke="#ff7f00" stroke-width="1"/>
<polyline points="80.0,365.3 82.1,350.3 84.0,335.3 85.5,320.2 87.2,305.2 88.8,290.2 90.3,275.2 91.8,260.2 93.3,245.1 94.7,230.1 96.3,215.1 97.5,200.1 98.7,185.1 100.0,170.0 101.4,155.0 102.7,140.0 103.7,125.0 104.8,110.0 105.8,94.9 107.0,79.9" stroke="#ff7f00" stroke-width="1"/>
<polyline points="97.4,365.3 105.0,350.3 114.9,335.3 120.9,320.2 129.3,305.2 136.2,290.2 146.2,275.2 155.0,260.2 161.8,245.1 168.0,230.1 172.8,215.1 176.6,200.1 181.1,185.1 184.2,170.0 188.9,155.0 198.5,140.0 203.3,125.0 206.8,110.0 213.1,94.9 217.2,79.9" stroke="#ff7f00" stroke-width="1"/>
<polyline points="95.0,365.3 108.4,350.3 116.8,335.3 122.6,320.2 126.9,305.2 130.9,290.2 135.1,275.2 143.9,260.2 154.4,245.1 162.9,230.1 168.9,215.1 173.8,200.1 177.6,185.1 184.4,170.0 191.5,155.0 197.1,140.0 202.0,125.0 210.7,110.0 217.6,94.9 220.4,79.9" stroke="#ff7f00" stroke-width="1"/>
<polyline points="90.5,365.3 102.9,350.3 113.6,335.3 124.2,320.2 130.6,305.2 137.5,290.2 144.9,275.2 151.2,260.2 157.9,245.1 167.5,230.1 175.3,215.1 180.0,200.1 184.4,185.1 190.1,170.0 195.6,155.0 202.0,140.0 208.5,125.0 212.6,110.0 216.0,94.9 220.6,79.9" stroke="#ff7f00" stroke-width="1"/>
<polyline points="90.8,365.3 100.9,350.3 108.6,335.3 118.0,320.2 122.4,305.2 130.0,290.2 137.1,275.2 140.6,260.2 147.1,245.1 157.5,230.1 162.0,215.1 170.6,200.1 175.5,185.1 179.2,170.0 183.5,155.0 188.3,140.0 193.1,125.0 199.6,110.0 205.3,94.9 215.3,79.9" stroke="#ff7f00" stroke-width="1"/>
<polyline points="91.0,365.3 109.4,350.3 123.7,335.3 132.1,320.2 143.7,305.2 150.4,290.2 154.7,275.2 158.6,260.2 162.9,245.1 167.4,230.1 176.2,215.1 182.9,200.1 186.0,185.1 188.9,170.0 191.3,155.0 196.3,140.0 202.0,125.0 206.6,110.0 214.8,94.9 223.5,79.9" stroke="#ff7f00" stroke-width="1"/>
<polyline points="101.1,365.3 128.6,350.3 146.2,335.3 156.3,320.2 164.5,305.2 169.8,290.2 173.9,275.2 177.2,260.2 182.0,245.1 187.1,230.1 192.4,215.1 196.9,200.1 198.8,185.1 201.4,170.0 204.9,155.0 207.3,140.0 210.5,125.0 213.4,110.0 216.6,94.9 220.3,79.9" stroke="#ff7f00" stroke-width="1"/>
<polyline points="95.0,365.3 131.6,350.3 151.5,335.3 161.2,320.2 170.0,305.2 174.0,290.2 179.9,275.2 184.9,260.2 190.0,245.1 192.9,230.1 195.2,215.1 197.4,200.1 199.7,185.1 202.6,170.0 206.2,155.0 209.3,140.0 212.0,125.0 216.1,110.0 219.2,94.9 221.8,79.9" stroke="#ff7f00" stroke-width="1"/>
<polyline points="102.7,365.3 118.6,350.3 128.0,335.3 135.9,320.2 143.3,305.2 148.3,290.2 154.9,275.2 164.8,260.2 172.7,245.1 178.1,230.1 187.1,215.1 191.8,200.1 196.3,185.1 199.1,170.0 202.9,155.0 208.7,140.0 217.5,125.0 226.1,110.0 236.3,94.9 248.0,79.9" stroke="#ff7f00" stroke-width="1"/>
<polyline points="121.6,365.3 142.9,350.3 156.7,335.3 165.4,320.2 170.6,305.2 175.9,290.2 180.1,275.2 183.3,260.2 189.1,245.1 195.5,230.1 202.3,215.1 210.1,200.1 215.8,185.1 220.9,170.0 224.8,155.0 227.9,140.0 231.6,125.0 238.0,110.0 246.0,94.9 256.0,79.9" stroke="#ff7f00" stroke-width="1"/>
<polyline points="119.0,365.3 137.3,350.3 147.3,335.3 158.6,320.2 165.5,305.2 169.7,290.2 173.9,275.2 177.6,260.2 179.7,245.1 182.3,230.1 185.5,215.1 191.0,200.1 201.2,185.1 209.2,170.0 214.6,155.0 224.8,140.0 236.2,125.0 245.1,110.0 254.7,94.9 260.0,79.9" stroke="#ff7f00" stroke-width="1"/>
<polyline points="105.3,365.3 130.3,350.3 151.1,335.3 161.5,320.2 169.3,305.2 174.6,290.2 179.9,275.2 184.7,260.2 188.1,245.1 196.3,230.1 203.9,215.1 211.5,200.1 220.5,185.1 226.9,170.0 232.4,155.0 243.2,140.0 252.0,125.0 257.6,110.0 261.9,94.9 267.0,79.9" stroke="#ff7f00" stroke-width="1"/>
<polyline points="115.4,365.3 124.5,350.3 130.3,335.3 134.7,320.2 141.1,305.2 146.7,290.2 153.6,275.2 163.1,260.2 175.2,245.1 184.2,230.1 189.7,215.1 198.3,200.1 204.1,185.1 209.2,170.0 217.7,155.0 227.0,140.0 238.1,125.0 246.5,110.0 258.6,94.9 269.0,79.9" stroke="#ff7f00" stroke-width="1"/>
<polyline points="116.1,365.3 159.5,350.3 183.4,335.3 194.8,320.2 203.9,305.2 211.9,290.2 218.1,275.2 224.0,260.2 230.7,245.1 238.7,230.1 243.8,215.1 250.1,200.1 254.9,185.1 258.5,170.0 261.7,155.0 264.8,140.0 268.1,125.0 269.7,110.0 272.5,94.9 275.0,79.9" stroke="#ff7f00" stroke-width="1"/>
<polyline points="117.7,365.3 141.2,350.3 155.1,335.3 164.6,320.2 173.4,305.2 181.3,290.2 187.6,275.2 194.4,260.2 204.5,245.1 213.4,230.1 219.4,215.1 227.4,200.1 235.2,185.1 242.0,170.0 248.4,155.0 257.1,140.0 264.6,125.0 271.4,110.0 277.1,94.9 282.0,79.9" stroke="#ff7f00" stroke-width="1"/>
<polyline points="108.7,365.3 119.7,350.3 128.1,335.3 135.3,320.2 144.9,305.2 155.3,290.2 162.2,275.2 167.9,260.2 174.2,245.1 182.5,230.1 189.6,215.1 201.2,200.1 209.2,185.1 216.7,170.0 224.6,155.0 236.9,140.0 248.1,125.0 266.2,110.0 279.0,94.9 287.0,79.9" stroke="#ff7f00" stroke-width="1"/>
<polyline points="122.9,365.3 152.2,350.3 173.4,335.3 183.1,320.2 191.1,305.2 205.0,290.2 217.2,275.2 227.0,260.2 234.4,245.1 239.0,230.1 244.8,215.1 250.4,200.1 255.9,185.1 262.6,170.0 268.6,155.0 274.6,140.0 277.6,125.0 281.6,110.0 287.2,94.9 292.0,79.9" stroke="#ff7f00" stroke-width="1"/>
<polyline points="102.6,365.3 115.1,350.3 121.9,335.3 126.5,320.2 130.8,305.2 137.3,290.2 141.1,275.2 147.4,260.2 156.3,245.1 171.3,230.1 184.1,215.1 203.9,200.1 221.9,185.1 235.8,170.0 248.4,155.0 254.0,140.0 264.6,125.0 273.7,110.0 287.9,94.9 300.0,79.9" stroke="#ff7f00" stroke-width="1"/>
<polyline points="120.8,365.3 153.9,350.3 175.2,335.3 189.3,320.2 197.3,305.2 204.9,290.2 212.7,275.2 221.0,260.2 230.3,245.1 236.0,230.1 241.7,215.1 246.9,200.1 251.9,185.1 256.2,170.0 265.3,155.0 271.6,140.0 279.9,125.0 287.0,110.0 296.9,94.9 307.0,79.9" stroke="#ff7f00" stroke-width="1"/>
<polyline points="107.7,365.3 128.4,350.3 140.3,335.3 150.0,320.2 159.4,305.2 167.2,290.2 175.0,275.2 185.2,260.2 191.9,245.1 198.2,230.1 206.2,215.1 214.5,200.1 226.5,185.1 234.8,170.0 242.8,155.0 254.5,140.0 264.3,125.0 283.1,110.0 302.4,94.9 315.0,79.9" stroke="#ff7f00" stroke-width="1"/>
<polyline points="100.2,365.3 148.0,350.3 171.5,335.3 190.7,320.2 200.7,305.2 210.3,290.2 216.1,275.2 226.2,260.2 237.0,245.1 242.4,230.1 248.6,215.1 262.0,200.1 273.1,185.1 280.9,170.0 288.5,155.0 293.7,140.0 298.5,125.0 304.7,110.0 312.8,94.9 322.0,79.9" stroke="#ff7f00" stroke-width="1"/>
<polyline points="122.4,365.3 141.3,350.3 152.2,335.3 160.1,320.2 167.3,305.2 174.4,290.2 179.2,275.2 185.0,260.2 191.3,245.1 197.3,230.1 204.6,215.1 219.5,200.1 231.5,185.1 252.0,170.0 274.8,155.0 286.4,140.0 297.7,125.0 312.4,110.0 319.6,94.9 326.0,79.9" stroke="#ff7f00" stroke-width="1"/>
<polyline points="111.2,365.3 130.8,350.3 140.0,335.3 144.9,320.2 148.7,305.2 151.8,290.2 156.8,275.2 165.6,260.2 172.0,245.1 178.4,230.1 189.5,215.1 199.2,200.1 213.3,185.1 225.7,170.0 237.5,155.0 250.5,140.0 268.2,125.0 288.4,110.0 313.7,94.9 330.0,79.9" stroke="#ff7f00" stroke-width="1"/>
<polyline points="119.5,365.3 130.9,350.3 139.6,335.3 145.9,320.2 153.5,305.2 164.1,290.2 170.8,275.2 181.3,260.2 194.3,245.1 202.8,230.1 212.9,215.1 221.6,200.1 231.5,185.1 242.1,170.0 258.6,155.0 275.5,140.0 300.5,125.0 314.6,110.0 327.9,94.9 340.0,79.9" stroke="#ff7f00" stroke-width="1"/>
<polyline points="109.5,365.3 140.5,350.3 160.5,335.3 175.4,320.2 191.0,305.2 210.6,290.2 228.9,275.2 242.7,260.2 255.1,245.1 262.2,230.1 268.8,215.1 278.7,200.1 285.7,185.1 292.1,170.0 300.0,155.0 311.2,140.0 326.3,125.0 333.7,110.0 339.6,94.9 345.0,79.9" stroke="#ff7f00" stroke-width="1"/>
<polyline points="105.4,365.3 133.6,350.3 153.5,335.3 167.8,320.2 179.0,305.2 189.8,290.2 200.5,275.2 213.2,260.2 222.3,245.1 235.5,230.1 255.8,215.1 267.2,200.1 278.3,185.1 286.3,170.0 297.2,155.0 309.9,140.0 318.1,125.0 328.9,110.0 342.4,94.9 350.0,79.9" stroke="#ff7f00" stroke-width="1"/>
<polyline points="114.0,365.3 129.7,350.3 138.0,335.3 146.7,320.2 156.3,305.2 163.8,290.2 172.6,275.2 181.8,260.2 191.7,245.1 199.8,230.1 211.8,215.1 221.9,200.1 234.9,185.1 250.5,170.0 270.3,155.0 290.0,140.0 310.3,125.0 327.1,110.0 342.5,94.9 360.0,79.9" stroke="#ff7f00" stroke-width="1"/>
<polyline points="111.2,365.3 137.2,350.3 156.6,335.3 168.1,320.2 177.2,305.2 184.1,290.2 197.2,275.2 207.1,260.2 222.0,245.1 232.0,230.1 242.5,215.1 253.9,200.1 264.7,185.1 275.0,170.0 285.5,155.0 301.9,140.0 317.4,125.0 333.6,110.0 348.7,94.9 365.0,79.9" stroke="#ff7f00" stroke-width="1"/>
<polyline points="108.4,365.3 128.2,350.3 146.0,335.3 155.7,320.2 167.5,305.2 180.8,290.2 187.3,275.2 193.0,260.2 199.8,245.1 208.1,230.1 220.0,215.1 239.4,200.1 251.0,185.1 265.4,170.0 276.4,155.0 289.2,140.0 309.0,125.0 334.4,110.0 353.6,94.9 372.0,79.9" stroke="#ff7f00" stroke-width="1"/>
<polyline points="121.1,365.3 157.2,350.3 176.9,335.3 193.9,320.2 208.0,305.2 218.3,290.2 228.8,275.2 238.4,260.2 249.5,245.1 262.9,230.1 270.9,215.1 282.4,200.1 296.2,185.1 313.5,170.0 325.1,155.0 336.7,140.0 345.6,125.0 354.7,110.0 366.9,94.9 382.0,79.9" stroke="#ff7f00" stroke-width="1"/>
<polyline points="112.3,365.3 131.4,350.3 141.0,335.3 146.9,320.2 152.8,305.2 161.5,290.2 169.3,275.2 178.0,260.2 191.4,245.1 208.3,230.1 219.9,215.1 231.6,200.1 247.7,185.1 267.1,170.0 294.0,155.0 310.5,140.0 325.5,125.0 344.5,110.0 367.2,94.9 390.0,79.9" stroke="#ff7f00" stroke-width="1"/>
<polyline points="117.8,365.3 152.2,350.3 172.3,335.3 190.9,320.2 205.1,305.2 227.4,290.2 243.6,275.2 254.9,260.2 266.9,245.1 277.8,230.1 288.2,215.1 298.7,200.1 311.0,185.1 326.9,170.0 343.5,155.0 355.0,140.0 371.4,125.0 379.7,110.0 390.9,94.9 399.0,79.9" stroke="#ff7f00" stroke-width="1"/>
<polyline points="99.9,365.3 115.2,350.3 125.2,335.3 131.6,320.2 138.3,305.2 144.5,290.2 150.0,275.2 161.1,260.2 171.9,245.1 184.0,230.1 199.6,215.1 216.4,200.1 232.4,185.1 247.1,170.0 262.7,155.0 279.6,140.0 314.6,125.0 344.6,110.0 367.5,94.9 405.0,79.9" stroke="#ff7f00" stroke-width="1"/>
<polyline points="111.6,365.3 131.0,350.3 143.3,335.3 155.1,320.2 164.5,305.2 170.6,290.2 176.5,275.2 189.8,260.2 214.0,245.1 232.3,230.1 254.2,215.1 268.8,200.1 287.8,185.1 304.9,170.0 317.3,155.0 333.3,140.0 360.2,125.0 375.5,110.0 399.8,94.9 416.0,79.9" stroke="#ff7f00" stroke-width="1"/>
<polyline points="112.8,365.3 131.4,350.3 145.3,335.3 160.1,320.2 170.8,305.2 181.0,290.2 192.9,275.2 211.4,260.2 230.3,245.1 245.5,230.1 264.9,215.1 281.7,200.1 294.5,185.1 305.1,170.0 314.4,155.0 330.4,140.0 353.5,125.0 378.1,110.0 400.8,94.9 415.0,79.9" stroke="#ff7f00" stroke-width="1"/>
<polyline points="117.9,365.3 166.3,350.3 192.9,335.3 215.3,320.2 227.2,305.2 235.3,290.2 246.7,275.2 260.7,260.2 272.4,245.1 283.1,230.1 298.6,215.1 317.1,200.1 338.9,185.1 360.9,170.0 374.1,155.0 390.1,140.0 399.6,125.0 405.6,110.0 411.5,94.9 421.0,79.9" stroke="#ff7f00" stroke-width="1"/>
<polyline points="123.6,365.3 176.5,350.3 200.3,335.3 221.6,320.2 240.4,305.2 256.9,290.2 275.7,275.2 288.3,260.2 303.2,245.1 321.3,230.1 333.6,215.1 342.6,200.1 349.5,185.1 357.7,170.0 367.0,155.0 378.0,140.0 394.4,125.0 406.9,110.0 424.0,94.9 437.0,79.9" stroke="#ff7f00" stroke-width="1"/>
<polyline points="114.7,365.3 155.1,350.3 183.8,335.3 208.8,320.2 225.9,305.2 242.1,290.2 266.5,275.2 284.1,260.2 305.0,245.1 322.3,230.1 336.3,215.1 350.4,200.1 369.4,185.1 389.5,170.0 404.0,155.0 416.9,140.0 426.2,125.0 436.8,110.0 446.7,94.9 457.0,79.9" stroke="#ff7f00" stroke-width="1"/>
<polyline points="109.7,365.3 119.3,350.3 128.4,335.3 148.8,320.2 186.2,305.2 229.7,290.2 261.2,275.2 288.0,260.2 312.7,245.1 340.4,230.1 367.0,215.1 385.4,200.1 400.2,185.1 415.0,170.0 428.1,155.0 443.2,140.0 457.5,125.0 467.7,110.0 475.8,94.9 484.7,79.9" stroke="#ff7f00" stroke-width="1"/>
<polyline points="110.1,365.3 118.4,350.3 128.5,335.3 147.4,320.2 184.1,305.2 226.2,290.2 257.2,275.2 284.8,260.2 311.7,245.1 341.0,230.1 366.5,215.1 385.0,200.1 401.6,185.1 415.8,170.0 432.0,155.0 447.3,140.0 462.5,125.0 476.2,110.0 485.6,94.9 493.6,79.9" stroke="#ff7f00" stroke-width="1"/>
<polyline points="111.5,365.3 119.6,350.3 132.4,335.3 153.7,320.2 193.9,305.2 241.2,290.2 275.1,275.2 304.1,260.2 331.0,245.1 358.7,230.1 383.4,215.1 400.7,200.1 415.8,185.1 431.1,170.0 446.7,155.0 460.5,140.0 474.2,125.0 484.9,110.0 493.3,94.9 500.1,79.9" stroke="#ff7f00" stroke-width="1"/>
<polyline points="98.0,365.3 127.0,350.3 136.0,335.3 145.0,320.2 153.0,305.2 162.0,290.2 173.0,275.2 182.0,260.2 190.0,245.1 194.0,230.1 197.0,215.1 200.0,200.1 203.0,185.1 203.0,170.0 204.0,155.0 206.0,140.0 209.0,125.0 211.0,110.0 212.0,94.9 212.5,79.9" stroke="#000" stroke-width="2"/>
<polyline points="98.0,365.3 127.0,350.3 134.5,335.3 143.5,320.2 151.5,305.2 160.5,290.2 171.5,275.2 180.5,260.2 190.0,245.1 195.8,230.1 196.8,215.1 197.3,200.1 197.8,185.1 197.8,170.0 198.3,155.0 198.8,140.0 201.8,125.0 204.8,110.0 206.8,94.9 208.8,79.9" stroke="#000" stroke-width="2"/>
<polyline points="98.0,365.3 127.5,350.3 137.0,335.3 147.0,320.2 155.0,305.2 166.0,290.2 181.0,275.2 187.0,260.2 192.0,245.1 194.0,230.1 195.0,215.1 195.5,200.1 196.0,185.1 196.0,170.0 196.5,155.0 197.0,140.0 200.0,125.0 203.0,110.0 205.0,94.9 207.0,79.9" stroke="#0000ee" stroke-width="2"/>
<polyline points="131.0,365.3 212.0,350.3 290.0,335.3 360.0,320.2 415.0,305.2 454.0,290.2 485.0,275.2 507.0,260.2 524.0,245.1 538.0,230.1 548.0,215.1 556.0,200.1 562.5,185.1 568.5,170.0 575.0,155.0 581.0,140.0 585.0,125.0 589.0,110.0 591.0,94.9 592.0,79.9" stroke="#000" stroke-width="2"/>
<polyline points="131.0,365.3 215.0,350.3 294.0,335.3 364.0,320.2 419.0,305.2 457.0,290.2 487.0,275.2 508.0,260.2 524.0,245.1 538.0,230.1 548.0,215.1 557.0,200.1 564.5,185.1 572.5,170.0 580.0,155.0 587.0,140.0 592.0,125.0 596.0,110.0 598.0,94.9 599.0,79.9" stroke="#000" stroke-width="2"/>
</g>
<g shape-rendering="crispEdges">
<rect x="65.5" y="65.5" width="550" height="310" fill="none" stroke="#000" stroke-width="1"/>
<line x1="128.5" y1="375" x2="128.5" y2="370" stroke="#000"/>
<line x1="128.5" y1="66" x2="128.5" y2="71" stroke="#000"/>
<line x1="181.5" y1="375" x2="181.5" y2="365" stroke="#000"/>
<line x1="181.5" y1="66" x2="181.5" y2="76" stroke="#000"/>
<line x1="234.5" y1="375" x2="234.5" y2="370" stroke="#000"/>
<line x1="234.5" y1="66" x2="234.5" y2="71" stroke="#000"/>
<line x1="287.5" y1="375" x2="287.5" y2="365" stroke="#000"/>
<line x1="287.5" y1="66" x2="287.5" y2="76" stroke="#000"/>
<line x1="340.5" y1="375" x2="340.5" y2="370" stroke="#000"/>
<line x1="340.5" y1="66" x2="340.5" y2="71" stroke="#000"/>
<line x1="393.5" y1="375" x2="393.5" y2="365" stroke="#000"/>
<line x1="393.5" y1="66" x2="393.5" y2="76" stroke="#000"/>
<line x1="446.5" y1="375" x2="446.5" y2="370" stroke="#000"/>
<line x1="446.5" y1="66" x2="446.5" y2="71" stroke="#000"/>
<line x1="499.5" y1="375" x2="499.5" y2="365" stroke="#000"/>
<line x1="499.5" y1="66" x2="499.5" y2="76" stroke="#000"/>
<line x1="552.5" y1="375" x2="552.5" y2="370" stroke="#000"/>
<line x1="552.5" y1="66" x2="552.5" y2="71" stroke="#000"/>
<line x1="605.5" y1="375" x2="605.5" y2="365" stroke="#000"/>
<line x1="605.5" y1="66" x2="605.5" y2="76" stroke="#000"/>
<line x1="66" y1="75.5" x2="76" y2="75.5" stroke="#000"/>
<line x1="615" y1="75.5" x2="605" y2="75.5" stroke="#000"/>
<line x1="66" y1="104.5" x2="71" y2="104.5" stroke="#000"/>
<line x1="615" y1="104.5" x2="610" y2="104.5" stroke="#000"/>
<line x1="66" y1="133.5" x2="71" y2="133.5" stroke="#000"/>
<line x1="615" y1="133.5" x2="610" y2="133.5" stroke="#000"/>
<line x1="66" y1="162.5" x2="71" y2="162.5" stroke="#000"/>
<line x1="615" y1="162.5" x2="610" y2="162.5" stroke="#000"/>
<line x1="66" y1="191.5" x2="71" y2="191.5" stroke="#000"/>
<line x1="615" y1="191.5" x2="610" y2="191.5" stroke="#000"/>
<line x1="66" y1="220.5" x2="76" y2="220.5" stroke="#000"/>
<line x1="615" y1="220.5" x2="605" y2="220.5" stroke="#000"/>
<line x1="66" y1="249.5" x2="71" y2="249.5" stroke="#000"/>
<line x1="615" y1="249.5" x2="610" y2="249.5" stroke="#000"/>
<line x1="66" y1="278.5" x2="71" y2="278.5" stroke="#000"/>
<line x1="615" y1="278.5" x2="610" y2="278.5" stroke="#000"/>
<line x1="66" y1="307.5" x2="71" y2="307.5" stroke="#000"/>
<line x1="615" y1="307.5" x2="610" y2="307.5" stroke="#000"/>
<line x1="66" y1="336.5" x2="71" y2="336.5" stroke="#000"/>
<line x1="615" y1="336.5" x2="610" y2="336.5" stroke="#000"/>
</g>
<g font-family="Liberation Mono" font-weight="normal" fill="#000" stroke="#000" stroke-width="0.5" opacity="0.999">
<text transform="translate(348,30.3) scale(1,0.83)" font-size="16" text-anchor="middle">T0984-D1</text>
<text transform="translate(334,419.8) scale(1,0.83)" font-size="16" text-anchor="middle">Percent of Residues (CA)</text>
<text transform="translate(29.8,234.3) rotate(-90) scale(1,0.83)" font-size="16" letter-spacing="0.08" text-anchor="middle">Distance Cutoff, A</text>
<g font-size="15" text-anchor="middle">
<text transform="translate(64.7,395.5) scale(1,0.93)">0</text>
<text transform="translate(180,395.5) scale(1,0.93)">20</text>
<text transform="translate(286,395.5) scale(1,0.93)">40</text>
<text transform="translate(392,395.5) scale(1,0.93)">60</text>
<text transform="translate(498,395.5) scale(1,0.93)">80</text>
<text transform="translate(609,395.5) scale(1,0.93)">100</text>
<text transform="translate(55.2,375.5) rotate(-90) scale(1,0.93)">0</text>
<text transform="translate(55.2,220) rotate(-90) scale(1,0.93)">5</text>
<text transform="translate(55.2,65.3) rotate(-90) scale(1,0.93)">10</text>
</g>
</g>
</svg>
</body></html>
